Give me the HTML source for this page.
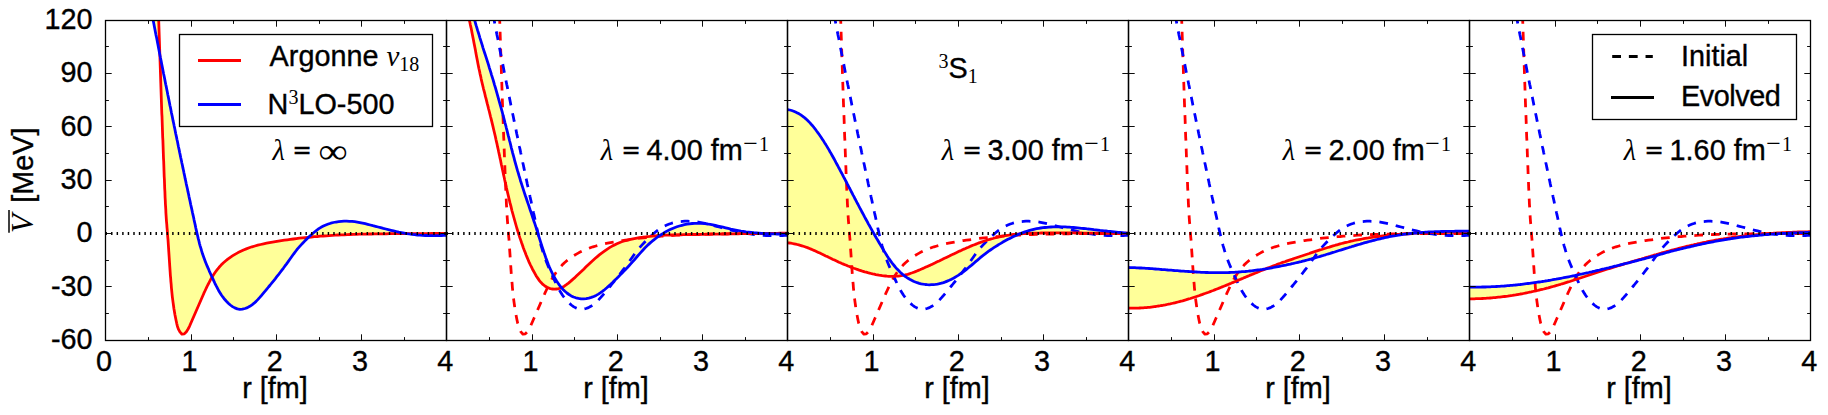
<!DOCTYPE html>
<html lang="en"><head><meta charset="utf-8"><title>SRG evolved potentials</title>
<style>html,body{margin:0;padding:0;background:#fff}svg{display:block}text{stroke:#000;stroke-width:.35px}.m{stroke:none}</style></head>
<body>
<svg width="1828" height="415" viewBox="0 0 1828 415" font-family="'Liberation Sans', Arial, Helvetica, sans-serif" font-size="28.8" fill="#000">
<rect x="0" y="0" width="1828" height="415" fill="#fff"/>
<defs>
<clipPath id="c0"><rect x="105.5" y="20.5" width="341.0" height="320.0"/></clipPath>
<clipPath id="c1"><rect x="446.5" y="20.5" width="341.0" height="320.0"/></clipPath>
<clipPath id="c2"><rect x="787.5" y="20.5" width="341.0" height="320.0"/></clipPath>
<clipPath id="c3"><rect x="1128.5" y="20.5" width="341.0" height="320.0"/></clipPath>
<clipPath id="c4"><rect x="1469.5" y="20.5" width="341.0" height="320.0"/></clipPath>
</defs>
<g clip-path="url(#c0)" fill="none" stroke-linejoin="round">
<path d="M157.9 -10.0L158.0 -7.0L158.1 -4.0L158.2 -1.0L158.2 2.0L158.3 5.0L158.4 8.1L158.5 11.1L158.6 14.1L158.7 17.1L158.7 20.1L158.8 23.1L158.9 26.1L159.0 29.1L159.1 32.1L159.2 35.1L159.3 38.1L159.4 41.1L159.5 44.2L159.6 47.2L159.7 50.2L159.8 53.2L159.9 56.2L160.0 59.2L160.1 62.2L160.2 65.2L160.3 68.2L160.4 71.2L160.5 74.2L160.6 77.2L160.7 80.2L160.8 83.3L160.9 86.3L161.0 89.3L161.1 92.3L161.2 95.3L161.3 98.3L161.4 101.3L161.5 104.3L161.6 107.3L161.7 110.3L161.8 113.3L162.0 116.3L162.1 119.3L162.2 122.3L162.3 125.4L162.4 128.4L162.5 131.4L162.6 134.4L162.7 137.4L162.9 140.4L163.0 143.4L163.1 146.4L163.2 149.4L163.3 152.4L163.4 155.4L163.5 158.4L163.7 161.5L163.8 164.5L163.9 167.5L164.0 170.5L164.1 173.5L164.2 176.5L164.4 179.5L164.5 182.5L164.6 185.5L164.7 188.5L164.9 191.5L165.0 194.5L165.1 197.5L165.3 200.6L165.4 203.6L165.6 206.6L165.8 209.6L165.9 212.6L166.1 215.6L166.3 218.6L166.5 221.6L166.8 224.6L167.0 227.6L167.3 230.6L167.5 233.6L167.7 236.6L168.0 239.6L168.2 242.6L168.4 245.6L168.6 248.6L168.8 251.6L169.0 254.6L169.2 257.6L169.4 260.6L169.6 263.6L169.8 266.6L170.0 269.6L170.2 272.6L170.4 275.6L170.7 278.6L170.9 281.6L171.2 284.6L171.4 287.6L171.7 290.6L172.0 293.6L172.3 296.6L172.7 299.6L173.1 302.6L173.5 305.5L173.9 308.5L174.4 311.5L174.9 314.4L175.5 317.4L176.1 320.4L176.7 323.3L177.4 326.2L178.4 329.1L179.9 331.9L182.0 334.2L184.3 333.9L186.4 331.7L188.1 329.0L189.5 326.3L190.7 323.5L191.9 320.8L193.1 318.0L194.3 315.2L195.5 312.5L196.7 309.7L197.9 307.0L199.1 304.3L200.3 301.5L201.5 298.8L202.7 296.0L203.9 293.2L205.2 290.5L206.5 287.7L207.8 285.0L209.2 282.3L210.6 279.7L212.1 277.0L213.7 274.5L215.4 272.0L217.2 269.6L219.1 267.3L221.1 265.1L223.2 263.0L225.5 261.0L227.8 259.1L230.3 257.3L232.8 255.7L235.4 254.1L238.1 252.6L240.8 251.3L243.5 250.0L246.3 248.9L249.2 247.8L252.0 246.8L254.9 246.0L257.8 245.2L260.7 244.5L263.6 243.8L266.6 243.2L269.5 242.6L272.5 242.1L275.4 241.6L278.4 241.1L281.4 240.6L284.4 240.2L287.3 239.8L290.3 239.4L293.3 239.0L296.3 238.6L299.3 238.2L302.3 237.9L305.3 237.6L308.3 237.3L311.3 237.0L314.3 236.7L317.3 236.5L320.3 236.2L323.3 236.0L326.3 235.8L329.3 235.6L332.3 235.4L335.3 235.2L338.3 235.0L341.3 234.9L344.3 234.8L347.3 234.6L350.3 234.5L353.3 234.4L356.3 234.3L359.3 234.2L362.3 234.1L365.3 234.1L368.3 234.0L371.4 234.0L374.4 233.9L377.4 233.9L380.4 233.8L383.4 233.8L386.4 233.8L389.4 233.7L392.4 233.7L395.4 233.7L398.5 233.7L401.5 233.7L404.5 233.6L407.5 233.6L410.5 233.6L413.5 233.6L416.5 233.6L419.5 233.6L422.5 233.6L425.5 233.6L428.6 233.6L431.6 233.5L434.6 233.5L437.6 233.5L440.6 233.5L443.6 233.4L446.6 233.4L446.6 235.3L443.9 235.4L441.3 235.5L438.6 235.6L435.9 235.6L433.3 235.6L430.6 235.6L427.9 235.5L425.3 235.5L422.6 235.3L419.9 235.2L417.3 235.0L414.6 234.7L411.9 234.4L409.3 234.0L406.7 233.6L404.1 233.1L401.4 232.6L398.8 232.1L396.2 231.5L393.6 230.9L391.0 230.3L388.4 229.7L385.8 229.0L383.3 228.4L380.7 227.7L378.1 227.0L375.5 226.3L372.9 225.7L370.3 225.0L367.7 224.3L365.2 223.7L362.6 223.1L359.9 222.6L357.3 222.1L354.7 221.7L352.0 221.4L349.4 221.3L346.7 221.2L344.0 221.2L341.4 221.4L338.7 221.6L336.0 222.0L333.4 222.5L330.8 223.2L328.3 224.0L325.8 225.0L323.4 226.1L321.0 227.3L318.8 228.7L316.6 230.3L314.5 232.0L312.5 233.7L310.5 235.5L308.5 237.3L306.6 239.2L304.7 241.1L302.9 243.0L301.1 244.9L299.3 246.9L297.5 248.9L295.9 251.0L294.3 253.1L292.7 255.3L291.1 257.5L289.5 259.7L288.0 261.9L286.4 264.1L284.8 266.2L283.3 268.3L281.7 270.4L280.1 272.5L278.5 274.6L276.8 276.7L275.2 278.8L273.6 280.8L271.9 282.9L270.2 285.0L268.5 287.0L266.8 289.1L265.1 291.2L263.4 293.2L261.6 295.3L259.8 297.4L258.0 299.4L256.1 301.4L254.1 303.2L252.0 304.8L249.8 306.3L247.5 307.6L245.0 308.5L242.4 309.2L239.8 309.3L237.3 308.9L234.8 307.9L232.5 306.6L230.3 305.0L228.3 303.2L226.4 301.3L224.6 299.3L223.0 297.2L221.4 295.0L220.0 292.8L218.6 290.5L217.4 288.1L216.1 285.7L214.9 283.3L213.8 280.8L212.7 278.4L211.5 276.0L210.4 273.5L209.3 271.1L208.3 268.6L207.2 266.2L206.2 263.7L205.2 261.2L204.3 258.8L203.4 256.3L202.5 253.8L201.7 251.2L201.0 248.7L200.2 246.1L199.5 243.6L198.9 241.0L198.2 238.4L197.6 235.8L197.0 233.2L196.4 230.6L195.8 228.0L195.3 225.4L194.7 222.8L194.1 220.1L193.6 217.5L193.0 214.9L192.4 212.3L191.9 209.7L191.3 207.1L190.7 204.5L190.2 201.9L189.6 199.3L189.0 196.6L188.5 194.0L187.9 191.4L187.4 188.8L186.8 186.2L186.2 183.6L185.7 181.0L185.1 178.4L184.6 175.8L184.0 173.1L183.5 170.5L182.9 167.9L182.4 165.3L181.8 162.7L181.3 160.1L180.7 157.5L180.2 154.9L179.6 152.3L179.1 149.6L178.5 147.0L178.0 144.4L177.5 141.8L176.9 139.2L176.4 136.6L175.8 134.0L175.3 131.4L174.8 128.7L174.2 126.1L173.7 123.5L173.1 120.9L172.6 118.3L172.1 115.7L171.5 113.1L171.0 110.4L170.5 107.8L169.9 105.2L169.4 102.6L168.9 100.0L168.4 97.4L167.8 94.8L167.3 92.1L166.8 89.5L166.3 86.9L165.7 84.3L165.2 81.7L164.7 79.1L164.2 76.5L163.6 73.8L163.1 71.2L162.6 68.6L162.1 66.0L161.6 63.4L161.1 60.8L160.5 58.1L160.0 55.5L159.5 52.9L159.0 50.3L158.5 47.7L158.0 45.0L157.5 42.4L157.0 39.8L156.5 37.2L155.9 34.6L155.4 31.9L154.9 29.3L154.4 26.7L153.9 24.1L153.4 21.5L152.9 18.8L152.4 16.2L151.9 13.6L151.4 11.0L150.9 8.4L150.4 5.7L149.9 3.1L149.4 0.5L148.9 -2.1L148.4 -4.8L147.9 -7.4L147.4 -10.0Z" fill="#ffff99" stroke="none"/>
<path d="M157.9 -10.0L158.0 -7.0L158.1 -4.0L158.2 -1.0L158.2 2.0L158.3 5.0L158.4 8.1L158.5 11.1L158.6 14.1L158.7 17.1L158.7 20.1L158.8 23.1L158.9 26.1L159.0 29.1L159.1 32.1L159.2 35.1L159.3 38.1L159.4 41.1L159.5 44.2L159.6 47.2L159.7 50.2L159.8 53.2L159.9 56.2L160.0 59.2L160.1 62.2L160.2 65.2L160.3 68.2L160.4 71.2L160.5 74.2L160.6 77.2L160.7 80.2L160.8 83.3L160.9 86.3L161.0 89.3L161.1 92.3L161.2 95.3L161.3 98.3L161.4 101.3L161.5 104.3L161.6 107.3L161.7 110.3L161.8 113.3L162.0 116.3L162.1 119.3L162.2 122.3L162.3 125.4L162.4 128.4L162.5 131.4L162.6 134.4L162.7 137.4L162.9 140.4L163.0 143.4L163.1 146.4L163.2 149.4L163.3 152.4L163.4 155.4L163.5 158.4L163.7 161.5L163.8 164.5L163.9 167.5L164.0 170.5L164.1 173.5L164.2 176.5L164.4 179.5L164.5 182.5L164.6 185.5L164.7 188.5L164.9 191.5L165.0 194.5L165.1 197.5L165.3 200.6L165.4 203.6L165.6 206.6L165.8 209.6L165.9 212.6L166.1 215.6L166.3 218.6L166.5 221.6L166.8 224.6L167.0 227.6L167.3 230.6L167.5 233.6L167.7 236.6L168.0 239.6L168.2 242.6L168.4 245.6L168.6 248.6L168.8 251.6L169.0 254.6L169.2 257.6L169.4 260.6L169.6 263.6L169.8 266.6L170.0 269.6L170.2 272.6L170.4 275.6L170.7 278.6L170.9 281.6L171.2 284.6L171.4 287.6L171.7 290.6L172.0 293.6L172.3 296.6L172.7 299.6L173.1 302.6L173.5 305.5L173.9 308.5L174.4 311.5L174.9 314.4L175.5 317.4L176.1 320.4L176.7 323.3L177.4 326.2L178.4 329.1L179.9 331.9L182.0 334.2L184.3 333.9L186.4 331.7L188.1 329.0L189.5 326.3L190.7 323.5L191.9 320.8L193.1 318.0L194.3 315.2L195.5 312.5L196.7 309.7L197.9 307.0L199.1 304.3L200.3 301.5L201.5 298.8L202.7 296.0L203.9 293.2L205.2 290.5L206.5 287.7L207.8 285.0L209.2 282.3L210.6 279.7L212.1 277.0L213.7 274.5L215.4 272.0L217.2 269.6L219.1 267.3L221.1 265.1L223.2 263.0L225.5 261.0L227.8 259.1L230.3 257.3L232.8 255.7L235.4 254.1L238.1 252.6L240.8 251.3L243.5 250.0L246.3 248.9L249.2 247.8L252.0 246.8L254.9 246.0L257.8 245.2L260.7 244.5L263.6 243.8L266.6 243.2L269.5 242.6L272.5 242.1L275.4 241.6L278.4 241.1L281.4 240.6L284.4 240.2L287.3 239.8L290.3 239.4L293.3 239.0L296.3 238.6L299.3 238.2L302.3 237.9L305.3 237.6L308.3 237.3L311.3 237.0L314.3 236.7L317.3 236.5L320.3 236.2L323.3 236.0L326.3 235.8L329.3 235.6L332.3 235.4L335.3 235.2L338.3 235.0L341.3 234.9L344.3 234.8L347.3 234.6L350.3 234.5L353.3 234.4L356.3 234.3L359.3 234.2L362.3 234.1L365.3 234.1L368.3 234.0L371.4 234.0L374.4 233.9L377.4 233.9L380.4 233.8L383.4 233.8L386.4 233.8L389.4 233.7L392.4 233.7L395.4 233.7L398.5 233.7L401.5 233.7L404.5 233.6L407.5 233.6L410.5 233.6L413.5 233.6L416.5 233.6L419.5 233.6L422.5 233.6L425.5 233.6L428.6 233.6L431.6 233.5L434.6 233.5L437.6 233.5L440.6 233.5L443.6 233.4L446.6 233.4" stroke="#ff0000" stroke-width="2.78"/>
<path d="M147.4 -10.0L147.9 -7.4L148.4 -4.8L148.9 -2.1L149.4 0.5L149.9 3.1L150.4 5.7L150.9 8.4L151.4 11.0L151.9 13.6L152.4 16.2L152.9 18.8L153.4 21.5L153.9 24.1L154.4 26.7L154.9 29.3L155.4 31.9L155.9 34.6L156.5 37.2L157.0 39.8L157.5 42.4L158.0 45.0L158.5 47.7L159.0 50.3L159.5 52.9L160.0 55.5L160.5 58.1L161.1 60.8L161.6 63.4L162.1 66.0L162.6 68.6L163.1 71.2L163.6 73.8L164.2 76.5L164.7 79.1L165.2 81.7L165.7 84.3L166.3 86.9L166.8 89.5L167.3 92.1L167.8 94.8L168.4 97.4L168.9 100.0L169.4 102.6L169.9 105.2L170.5 107.8L171.0 110.4L171.5 113.1L172.1 115.7L172.6 118.3L173.1 120.9L173.7 123.5L174.2 126.1L174.8 128.7L175.3 131.4L175.8 134.0L176.4 136.6L176.9 139.2L177.5 141.8L178.0 144.4L178.5 147.0L179.1 149.6L179.6 152.3L180.2 154.9L180.7 157.5L181.3 160.1L181.8 162.7L182.4 165.3L182.9 167.9L183.5 170.5L184.0 173.1L184.6 175.8L185.1 178.4L185.7 181.0L186.2 183.6L186.8 186.2L187.4 188.8L187.9 191.4L188.5 194.0L189.0 196.6L189.6 199.3L190.2 201.9L190.7 204.5L191.3 207.1L191.9 209.7L192.4 212.3L193.0 214.9L193.6 217.5L194.1 220.1L194.7 222.8L195.3 225.4L195.8 228.0L196.4 230.6L197.0 233.2L197.6 235.8L198.2 238.4L198.9 241.0L199.5 243.6L200.2 246.1L201.0 248.7L201.7 251.2L202.5 253.8L203.4 256.3L204.3 258.8L205.2 261.2L206.2 263.7L207.2 266.2L208.3 268.6L209.3 271.1L210.4 273.5L211.5 276.0L212.7 278.4L213.8 280.8L214.9 283.3L216.1 285.7L217.4 288.1L218.6 290.5L220.0 292.8L221.4 295.0L223.0 297.2L224.6 299.3L226.4 301.3L228.3 303.2L230.3 305.0L232.5 306.6L234.8 307.9L237.3 308.9L239.8 309.3L242.4 309.2L245.0 308.5L247.5 307.6L249.8 306.3L252.0 304.8L254.1 303.2L256.1 301.4L258.0 299.4L259.8 297.4L261.6 295.3L263.4 293.2L265.1 291.2L266.8 289.1L268.5 287.0L270.2 285.0L271.9 282.9L273.6 280.8L275.2 278.8L276.8 276.7L278.5 274.6L280.1 272.5L281.7 270.4L283.3 268.3L284.8 266.2L286.4 264.1L288.0 261.9L289.5 259.7L291.1 257.5L292.7 255.3L294.3 253.1L295.9 251.0L297.5 248.9L299.3 246.9L301.1 244.9L302.9 243.0L304.7 241.1L306.6 239.2L308.5 237.3L310.5 235.5L312.5 233.7L314.5 232.0L316.6 230.3L318.8 228.7L321.0 227.3L323.4 226.1L325.8 225.0L328.3 224.0L330.8 223.2L333.4 222.5L336.0 222.0L338.7 221.6L341.4 221.4L344.0 221.2L346.7 221.2L349.4 221.3L352.0 221.4L354.7 221.7L357.3 222.1L359.9 222.6L362.6 223.1L365.2 223.7L367.7 224.3L370.3 225.0L372.9 225.7L375.5 226.3L378.1 227.0L380.7 227.7L383.3 228.4L385.8 229.0L388.4 229.7L391.0 230.3L393.6 230.9L396.2 231.5L398.8 232.1L401.4 232.6L404.1 233.1L406.7 233.6L409.3 234.0L411.9 234.4L414.6 234.7L417.3 235.0L419.9 235.2L422.6 235.3L425.3 235.5L427.9 235.5L430.6 235.6L433.3 235.6L435.9 235.6L438.6 235.6L441.3 235.5L443.9 235.4L446.6 235.3" stroke="#0000ff" stroke-width="2.78"/>
<path d="M105.5 233.5H446.5" stroke="#000" stroke-width="3" stroke-dasharray="1.45 4.105"/>
</g>
<g clip-path="url(#c1)" fill="none" stroke-linejoin="round">
<path d="M460.5 -10.0L461.4 -7.5L462.3 -5.1L463.1 -2.6L463.9 -0.1L464.7 2.4L465.4 4.9L466.1 7.4L466.8 9.9L467.4 12.4L468.1 14.9L468.7 17.4L469.3 20.0L469.9 22.5L470.4 25.0L471.0 27.6L471.5 30.1L472.0 32.7L472.5 35.2L473.0 37.8L473.5 40.3L474.0 42.9L474.5 45.5L475.0 48.0L475.5 50.6L475.9 53.1L476.4 55.7L476.9 58.2L477.4 60.8L477.9 63.4L478.4 65.9L478.9 68.5L479.5 71.0L480.0 73.6L480.6 76.1L481.1 78.6L481.7 81.2L482.3 83.7L482.9 86.2L483.5 88.8L484.2 91.3L484.8 93.8L485.4 96.4L486.1 98.9L486.7 101.4L487.3 103.9L488.0 106.4L488.6 109.0L489.3 111.5L489.9 114.0L490.5 116.5L491.2 119.1L491.8 121.6L492.4 124.1L493.0 126.6L493.6 129.2L494.2 131.7L494.8 134.2L495.4 136.8L495.9 139.3L496.5 141.9L497.1 144.4L497.6 146.9L498.2 149.5L498.7 152.0L499.3 154.6L499.8 157.1L500.4 159.6L500.9 162.2L501.4 164.7L502.0 167.3L502.5 169.8L503.1 172.4L503.6 174.9L504.2 177.5L504.7 180.0L505.3 182.6L505.9 185.1L506.4 187.6L507.0 190.2L507.6 192.7L508.2 195.3L508.8 197.8L509.4 200.3L510.0 202.9L510.7 205.4L511.3 207.9L511.9 210.5L512.6 213.0L513.3 215.5L514.0 218.0L514.7 220.5L515.4 223.0L516.1 225.5L516.8 228.0L517.6 230.5L518.4 233.0L519.1 235.4L519.9 237.9L520.8 240.4L521.6 242.8L522.5 245.3L523.3 247.7L524.2 250.1L525.2 252.5L526.1 255.0L527.1 257.4L528.1 259.7L529.1 262.1L530.2 264.5L531.4 266.9L532.5 269.2L533.8 271.5L535.1 273.9L536.4 276.2L537.9 278.4L539.4 280.6L541.1 282.6L542.9 284.4L544.9 286.0L547.0 287.3L549.4 288.3L551.9 289.0L554.5 289.2L557.1 289.0L559.6 288.4L562.0 287.4L564.3 286.2L566.4 284.7L568.5 283.1L570.5 281.4L572.5 279.6L574.5 277.9L576.4 276.1L578.3 274.3L580.2 272.5L582.1 270.7L584.0 268.9L585.8 267.1L587.7 265.3L589.6 263.5L591.5 261.7L593.4 260.0L595.3 258.3L597.3 256.6L599.3 254.9L601.3 253.3L603.4 251.8L605.5 250.3L607.7 248.8L609.9 247.4L612.2 246.1L614.5 244.9L616.9 243.7L619.3 242.7L621.7 241.8L624.2 241.0L626.7 240.3L629.2 239.7L631.8 239.1L634.3 238.6L636.9 238.1L639.4 237.7L642.0 237.3L644.6 237.0L647.1 236.6L649.7 236.4L652.3 236.1L654.9 235.9L657.5 235.7L660.1 235.5L662.7 235.4L665.3 235.2L667.9 235.1L670.5 235.0L673.1 235.0L675.7 234.9L678.3 234.8L680.9 234.8L683.5 234.7L686.1 234.7L688.7 234.6L691.3 234.6L693.9 234.6L696.5 234.5L699.1 234.5L701.7 234.4L704.3 234.4L707.0 234.3L709.6 234.3L712.2 234.2L714.8 234.2L717.4 234.1L720.0 234.1L722.6 234.0L725.2 234.0L727.8 234.0L730.4 233.9L733.0 233.9L735.6 233.8L738.2 233.8L740.8 233.7L743.4 233.7L746.0 233.6L748.5 233.6L751.1 233.6L753.8 233.5L756.4 233.5L759.0 233.5L761.6 233.4L764.2 233.4L766.8 233.4L769.4 233.3L772.0 233.3L774.6 233.3L777.2 233.3L779.8 233.2L782.4 233.2L785.0 233.2L787.6 233.2L787.6 234.2L785.0 234.1L782.4 234.1L779.8 234.0L777.2 234.0L774.6 233.9L772.0 233.8L769.4 233.7L766.8 233.6L764.2 233.5L761.5 233.3L758.9 233.1L756.3 232.9L753.8 232.7L751.2 232.4L748.6 232.1L746.0 231.8L743.4 231.4L740.9 231.0L738.3 230.5L735.7 230.0L733.2 229.5L730.7 229.0L728.1 228.4L725.6 227.8L723.0 227.2L720.5 226.6L717.9 226.0L715.4 225.4L712.8 224.9L710.3 224.4L707.7 224.0L705.1 223.7L702.5 223.4L699.9 223.3L697.3 223.3L694.7 223.3L692.1 223.5L689.5 223.8L687.0 224.2L684.4 224.7L681.9 225.3L679.4 226.0L676.9 226.8L674.4 227.7L672.0 228.7L669.6 229.8L667.3 230.9L665.0 232.2L662.8 233.6L660.6 235.0L658.4 236.4L656.3 238.0L654.2 239.6L652.2 241.2L650.2 242.9L648.3 244.6L646.4 246.4L644.6 248.3L642.8 250.2L641.1 252.1L639.3 254.1L637.6 256.0L635.9 258.0L634.2 260.0L632.5 261.9L630.7 263.9L629.0 265.8L627.2 267.7L625.5 269.5L623.7 271.4L621.9 273.3L620.0 275.1L618.2 277.0L616.4 278.8L614.5 280.6L612.6 282.5L610.7 284.3L608.7 286.1L606.8 287.8L604.8 289.5L602.7 291.2L600.6 292.7L598.4 294.1L596.1 295.4L593.8 296.5L591.3 297.4L588.8 298.1L586.2 298.6L583.6 298.8L581.0 298.8L578.5 298.4L575.9 297.8L573.5 297.0L571.2 295.9L569.0 294.5L566.9 293.0L564.9 291.3L563.0 289.4L561.3 287.5L559.6 285.4L558.1 283.2L556.6 281.0L555.2 278.7L553.9 276.5L552.7 274.2L551.6 271.8L550.5 269.5L549.4 267.1L548.4 264.7L547.5 262.3L546.6 259.8L545.7 257.4L544.9 255.0L544.0 252.5L543.2 250.0L542.4 247.6L541.6 245.1L540.8 242.6L540.0 240.1L539.2 237.6L538.4 235.1L537.7 232.6L536.9 230.2L536.1 227.7L535.3 225.2L534.5 222.7L533.6 220.2L532.8 217.7L532.0 215.3L531.2 212.8L530.3 210.3L529.5 207.9L528.7 205.4L527.8 202.9L527.0 200.5L526.2 198.0L525.3 195.5L524.5 193.1L523.7 190.6L522.9 188.1L522.1 185.6L521.3 183.1L520.5 180.7L519.8 178.2L519.0 175.7L518.3 173.2L517.5 170.7L516.8 168.2L516.1 165.7L515.4 163.2L514.7 160.7L514.1 158.1L513.4 155.6L512.7 153.1L512.1 150.6L511.4 148.1L510.8 145.5L510.2 143.0L509.5 140.5L508.9 137.9L508.2 135.4L507.6 132.9L507.0 130.4L506.3 127.8L505.7 125.3L505.0 122.8L504.4 120.3L503.7 117.7L503.0 115.2L502.4 112.7L501.7 110.2L501.0 107.7L500.3 105.2L499.6 102.6L498.9 100.1L498.2 97.6L497.5 95.1L496.8 92.6L496.1 90.1L495.4 87.6L494.6 85.1L493.9 82.6L493.2 80.1L492.4 77.6L491.6 75.1L490.9 72.6L490.1 70.1L489.3 67.6L488.6 65.2L487.8 62.7L487.0 60.2L486.2 57.7L485.4 55.2L484.6 52.7L483.8 50.3L483.0 47.8L482.3 45.3L481.5 42.8L480.7 40.3L479.9 37.8L479.2 35.3L478.4 32.8L477.6 30.4L476.9 27.9L476.1 25.4L475.4 22.9L474.7 20.4L474.0 17.8L473.3 15.3L472.6 12.8L471.9 10.3L471.3 7.8L470.7 5.3L470.0 2.7L469.4 0.2L468.8 -2.3L468.3 -4.9L467.7 -7.4L467.2 -10.0Z" fill="#ffff99" stroke="none"/>
<path d="M498.9 -10.0L499.0 -7.0L499.1 -4.0L499.2 -1.0L499.2 2.0L499.3 5.0L499.4 8.1L499.5 11.1L499.6 14.1L499.7 17.1L499.7 20.1L499.8 23.1L499.9 26.1L500.0 29.1L500.1 32.1L500.2 35.1L500.3 38.1L500.4 41.1L500.5 44.2L500.6 47.2L500.7 50.2L500.8 53.2L500.9 56.2L501.0 59.2L501.1 62.2L501.2 65.2L501.3 68.2L501.4 71.2L501.5 74.2L501.6 77.2L501.7 80.2L501.8 83.3L501.9 86.3L502.0 89.3L502.1 92.3L502.2 95.3L502.3 98.3L502.4 101.3L502.5 104.3L502.6 107.3L502.7 110.3L502.8 113.3L503.0 116.3L503.1 119.3L503.2 122.3L503.3 125.4L503.4 128.4L503.5 131.4L503.6 134.4L503.7 137.4L503.9 140.4L504.0 143.4L504.1 146.4L504.2 149.4L504.3 152.4L504.4 155.4L504.5 158.4L504.7 161.5L504.8 164.5L504.9 167.5L505.0 170.5L505.1 173.5L505.2 176.5L505.4 179.5L505.5 182.5L505.6 185.5L505.7 188.5L505.9 191.5L506.0 194.5L506.1 197.5L506.3 200.6L506.4 203.6L506.6 206.6L506.8 209.6L506.9 212.6L507.1 215.6L507.3 218.6L507.5 221.6L507.8 224.6L508.0 227.6L508.3 230.6L508.5 233.6L508.7 236.6L509.0 239.6L509.2 242.6L509.4 245.6L509.6 248.6L509.8 251.6L510.0 254.6L510.2 257.6L510.4 260.6L510.6 263.6L510.8 266.6L511.0 269.6L511.2 272.6L511.4 275.6L511.7 278.6L511.9 281.6L512.2 284.6L512.4 287.6L512.7 290.6L513.0 293.6L513.3 296.6L513.7 299.6L514.1 302.6L514.5 305.5L514.9 308.5L515.4 311.5L515.9 314.4L516.5 317.4L517.1 320.4L517.7 323.3L518.4 326.2L519.4 329.1L520.9 331.9L523.0 334.2L525.3 333.9L527.4 331.7L529.1 329.0L530.5 326.3L531.7 323.5L532.9 320.8L534.1 318.0L535.3 315.2L536.5 312.5L537.7 309.7L538.9 307.0L540.1 304.3L541.3 301.5L542.5 298.8L543.7 296.0L544.9 293.2L546.2 290.5L547.5 287.7L548.8 285.0L550.2 282.3L551.6 279.7L553.1 277.0L554.7 274.5L556.4 272.0L558.2 269.6L560.1 267.3L562.1 265.1L564.2 263.0L566.5 261.0L568.8 259.1L571.3 257.3L573.8 255.7L576.4 254.1L579.1 252.6L581.8 251.3L584.5 250.0L587.3 248.9L590.2 247.8L593.0 246.8L595.9 246.0L598.8 245.2L601.7 244.5L604.6 243.8L607.6 243.2L610.5 242.6L613.5 242.1L616.4 241.6L619.4 241.1L622.4 240.6L625.4 240.2L628.3 239.8L631.3 239.4L634.3 239.0L637.3 238.6L640.3 238.2L643.3 237.9L646.3 237.6L649.3 237.3L652.3 237.0L655.3 236.7L658.3 236.5L661.3 236.2L664.3 236.0L667.3 235.8L670.3 235.6L673.3 235.4L676.3 235.2L679.3 235.0L682.3 234.9L685.3 234.8L688.3 234.6L691.3 234.5L694.3 234.4L697.3 234.3L700.3 234.2L703.3 234.1L706.3 234.1L709.3 234.0L712.4 234.0L715.4 233.9L718.4 233.9L721.4 233.8L724.4 233.8L727.4 233.8L730.4 233.7L733.4 233.7L736.4 233.7L739.5 233.7L742.5 233.7L745.5 233.6L748.5 233.6L751.5 233.6L754.5 233.6L757.5 233.6L760.5 233.6L763.5 233.6L766.5 233.6L769.6 233.6L772.6 233.5L775.6 233.5L778.6 233.5L781.6 233.5L784.6 233.4L787.6 233.4" stroke="#ff0000" stroke-width="2.78" stroke-dasharray="8.7 8.0" stroke-dashoffset="-8.38"/>
<path d="M488.4 -10.0L488.9 -7.4L489.4 -4.8L489.9 -2.1L490.4 0.5L490.9 3.1L491.4 5.7L491.9 8.4L492.4 11.0L492.9 13.6L493.4 16.2L493.9 18.8L494.4 21.5L494.9 24.1L495.4 26.7L495.9 29.3L496.4 31.9L496.9 34.6L497.5 37.2L498.0 39.8L498.5 42.4L499.0 45.0L499.5 47.7L500.0 50.3L500.5 52.9L501.0 55.5L501.5 58.1L502.1 60.8L502.6 63.4L503.1 66.0L503.6 68.6L504.1 71.2L504.6 73.8L505.2 76.5L505.7 79.1L506.2 81.7L506.7 84.3L507.3 86.9L507.8 89.5L508.3 92.1L508.8 94.8L509.4 97.4L509.9 100.0L510.4 102.6L510.9 105.2L511.5 107.8L512.0 110.4L512.5 113.1L513.1 115.7L513.6 118.3L514.1 120.9L514.7 123.5L515.2 126.1L515.8 128.7L516.3 131.4L516.8 134.0L517.4 136.6L517.9 139.2L518.5 141.8L519.0 144.4L519.5 147.0L520.1 149.6L520.6 152.3L521.2 154.9L521.7 157.5L522.3 160.1L522.8 162.7L523.4 165.3L523.9 167.9L524.5 170.5L525.0 173.1L525.6 175.8L526.1 178.4L526.7 181.0L527.2 183.6L527.8 186.2L528.4 188.8L528.9 191.4L529.5 194.0L530.0 196.6L530.6 199.3L531.2 201.9L531.7 204.5L532.3 207.1L532.9 209.7L533.4 212.3L534.0 214.9L534.6 217.5L535.1 220.1L535.7 222.8L536.3 225.4L536.8 228.0L537.4 230.6L538.0 233.2L538.6 235.8L539.2 238.4L539.9 241.0L540.5 243.6L541.2 246.1L542.0 248.7L542.7 251.2L543.5 253.8L544.4 256.3L545.3 258.8L546.2 261.2L547.2 263.7L548.2 266.2L549.3 268.6L550.3 271.1L551.4 273.5L552.5 276.0L553.7 278.4L554.8 280.8L555.9 283.3L557.1 285.7L558.4 288.1L559.6 290.5L561.0 292.8L562.4 295.0L564.0 297.2L565.6 299.3L567.4 301.3L569.3 303.2L571.3 305.0L573.5 306.6L575.8 307.9L578.3 308.9L580.8 309.3L583.4 309.2L586.0 308.5L588.5 307.6L590.8 306.3L593.0 304.8L595.1 303.2L597.1 301.4L599.0 299.4L600.8 297.4L602.6 295.3L604.4 293.2L606.1 291.2L607.8 289.1L609.5 287.0L611.2 285.0L612.9 282.9L614.6 280.8L616.2 278.8L617.8 276.7L619.5 274.6L621.1 272.5L622.7 270.4L624.3 268.3L625.8 266.2L627.4 264.1L629.0 261.9L630.5 259.7L632.1 257.5L633.7 255.3L635.3 253.1L636.9 251.0L638.5 248.9L640.3 246.9L642.1 244.9L643.9 243.0L645.7 241.1L647.6 239.2L649.5 237.3L651.5 235.5L653.5 233.7L655.5 232.0L657.6 230.3L659.8 228.7L662.0 227.3L664.4 226.1L666.8 225.0L669.3 224.0L671.8 223.2L674.4 222.5L677.0 222.0L679.7 221.6L682.4 221.4L685.0 221.2L687.7 221.2L690.4 221.3L693.0 221.4L695.7 221.7L698.3 222.1L700.9 222.6L703.6 223.1L706.2 223.7L708.7 224.3L711.3 225.0L713.9 225.7L716.5 226.3L719.1 227.0L721.7 227.7L724.3 228.4L726.8 229.0L729.4 229.7L732.0 230.3L734.6 230.9L737.2 231.5L739.8 232.1L742.4 232.6L745.1 233.1L747.7 233.6L750.3 234.0L752.9 234.4L755.6 234.7L758.3 235.0L760.9 235.2L763.6 235.3L766.3 235.5L768.9 235.5L771.6 235.6L774.3 235.6L776.9 235.6L779.6 235.6L782.3 235.5L784.9 235.4L787.6 235.3" stroke="#0000ff" stroke-width="2.78" stroke-dasharray="8.7 8.0" stroke-dashoffset="-8.71"/>
<path d="M460.5 -10.0L461.4 -7.5L462.3 -5.1L463.1 -2.6L463.9 -0.1L464.7 2.4L465.4 4.9L466.1 7.4L466.8 9.9L467.4 12.4L468.1 14.9L468.7 17.4L469.3 20.0L469.9 22.5L470.4 25.0L471.0 27.6L471.5 30.1L472.0 32.7L472.5 35.2L473.0 37.8L473.5 40.3L474.0 42.9L474.5 45.5L475.0 48.0L475.5 50.6L475.9 53.1L476.4 55.7L476.9 58.2L477.4 60.8L477.9 63.4L478.4 65.9L478.9 68.5L479.5 71.0L480.0 73.6L480.6 76.1L481.1 78.6L481.7 81.2L482.3 83.7L482.9 86.2L483.5 88.8L484.2 91.3L484.8 93.8L485.4 96.4L486.1 98.9L486.7 101.4L487.3 103.9L488.0 106.4L488.6 109.0L489.3 111.5L489.9 114.0L490.5 116.5L491.2 119.1L491.8 121.6L492.4 124.1L493.0 126.6L493.6 129.2L494.2 131.7L494.8 134.2L495.4 136.8L495.9 139.3L496.5 141.9L497.1 144.4L497.6 146.9L498.2 149.5L498.7 152.0L499.3 154.6L499.8 157.1L500.4 159.6L500.9 162.2L501.4 164.7L502.0 167.3L502.5 169.8L503.1 172.4L503.6 174.9L504.2 177.5L504.7 180.0L505.3 182.6L505.9 185.1L506.4 187.6L507.0 190.2L507.6 192.7L508.2 195.3L508.8 197.8L509.4 200.3L510.0 202.9L510.7 205.4L511.3 207.9L511.9 210.5L512.6 213.0L513.3 215.5L514.0 218.0L514.7 220.5L515.4 223.0L516.1 225.5L516.8 228.0L517.6 230.5L518.4 233.0L519.1 235.4L519.9 237.9L520.8 240.4L521.6 242.8L522.5 245.3L523.3 247.7L524.2 250.1L525.2 252.5L526.1 255.0L527.1 257.4L528.1 259.7L529.1 262.1L530.2 264.5L531.4 266.9L532.5 269.2L533.8 271.5L535.1 273.9L536.4 276.2L537.9 278.4L539.4 280.6L541.1 282.6L542.9 284.4L544.9 286.0L547.0 287.3L549.4 288.3L551.9 289.0L554.5 289.2L557.1 289.0L559.6 288.4L562.0 287.4L564.3 286.2L566.4 284.7L568.5 283.1L570.5 281.4L572.5 279.6L574.5 277.9L576.4 276.1L578.3 274.3L580.2 272.5L582.1 270.7L584.0 268.9L585.8 267.1L587.7 265.3L589.6 263.5L591.5 261.7L593.4 260.0L595.3 258.3L597.3 256.6L599.3 254.9L601.3 253.3L603.4 251.8L605.5 250.3L607.7 248.8L609.9 247.4L612.2 246.1L614.5 244.9L616.9 243.7L619.3 242.7L621.7 241.8L624.2 241.0L626.7 240.3L629.2 239.7L631.8 239.1L634.3 238.6L636.9 238.1L639.4 237.7L642.0 237.3L644.6 237.0L647.1 236.6L649.7 236.4L652.3 236.1L654.9 235.9L657.5 235.7L660.1 235.5L662.7 235.4L665.3 235.2L667.9 235.1L670.5 235.0L673.1 235.0L675.7 234.9L678.3 234.8L680.9 234.8L683.5 234.7L686.1 234.7L688.7 234.6L691.3 234.6L693.9 234.6L696.5 234.5L699.1 234.5L701.7 234.4L704.3 234.4L707.0 234.3L709.6 234.3L712.2 234.2L714.8 234.2L717.4 234.1L720.0 234.1L722.6 234.0L725.2 234.0L727.8 234.0L730.4 233.9L733.0 233.9L735.6 233.8L738.2 233.8L740.8 233.7L743.4 233.7L746.0 233.6L748.5 233.6L751.1 233.6L753.8 233.5L756.4 233.5L759.0 233.5L761.6 233.4L764.2 233.4L766.8 233.4L769.4 233.3L772.0 233.3L774.6 233.3L777.2 233.3L779.8 233.2L782.4 233.2L785.0 233.2L787.6 233.2" stroke="#ff0000" stroke-width="2.78"/>
<path d="M467.2 -10.0L467.7 -7.4L468.3 -4.9L468.8 -2.3L469.4 0.2L470.0 2.7L470.7 5.3L471.3 7.8L471.9 10.3L472.6 12.8L473.3 15.3L474.0 17.8L474.7 20.4L475.4 22.9L476.1 25.4L476.9 27.9L477.6 30.4L478.4 32.8L479.2 35.3L479.9 37.8L480.7 40.3L481.5 42.8L482.3 45.3L483.0 47.8L483.8 50.3L484.6 52.7L485.4 55.2L486.2 57.7L487.0 60.2L487.8 62.7L488.6 65.2L489.3 67.6L490.1 70.1L490.9 72.6L491.6 75.1L492.4 77.6L493.2 80.1L493.9 82.6L494.6 85.1L495.4 87.6L496.1 90.1L496.8 92.6L497.5 95.1L498.2 97.6L498.9 100.1L499.6 102.6L500.3 105.2L501.0 107.7L501.7 110.2L502.4 112.7L503.0 115.2L503.7 117.7L504.4 120.3L505.0 122.8L505.7 125.3L506.3 127.8L507.0 130.4L507.6 132.9L508.2 135.4L508.9 137.9L509.5 140.5L510.2 143.0L510.8 145.5L511.4 148.1L512.1 150.6L512.7 153.1L513.4 155.6L514.1 158.1L514.7 160.7L515.4 163.2L516.1 165.7L516.8 168.2L517.5 170.7L518.3 173.2L519.0 175.7L519.8 178.2L520.5 180.7L521.3 183.1L522.1 185.6L522.9 188.1L523.7 190.6L524.5 193.1L525.3 195.5L526.2 198.0L527.0 200.5L527.8 202.9L528.7 205.4L529.5 207.9L530.3 210.3L531.2 212.8L532.0 215.3L532.8 217.7L533.6 220.2L534.5 222.7L535.3 225.2L536.1 227.7L536.9 230.2L537.7 232.6L538.4 235.1L539.2 237.6L540.0 240.1L540.8 242.6L541.6 245.1L542.4 247.6L543.2 250.0L544.0 252.5L544.9 255.0L545.7 257.4L546.6 259.8L547.5 262.3L548.4 264.7L549.4 267.1L550.5 269.5L551.6 271.8L552.7 274.2L553.9 276.5L555.2 278.7L556.6 281.0L558.1 283.2L559.6 285.4L561.3 287.5L563.0 289.4L564.9 291.3L566.9 293.0L569.0 294.5L571.2 295.9L573.5 297.0L575.9 297.8L578.5 298.4L581.0 298.8L583.6 298.8L586.2 298.6L588.8 298.1L591.3 297.4L593.8 296.5L596.1 295.4L598.4 294.1L600.6 292.7L602.7 291.2L604.8 289.5L606.8 287.8L608.7 286.1L610.7 284.3L612.6 282.5L614.5 280.6L616.4 278.8L618.2 277.0L620.0 275.1L621.9 273.3L623.7 271.4L625.5 269.5L627.2 267.7L629.0 265.8L630.7 263.9L632.5 261.9L634.2 260.0L635.9 258.0L637.6 256.0L639.3 254.1L641.1 252.1L642.8 250.2L644.6 248.3L646.4 246.4L648.3 244.6L650.2 242.9L652.2 241.2L654.2 239.6L656.3 238.0L658.4 236.4L660.6 235.0L662.8 233.6L665.0 232.2L667.3 230.9L669.6 229.8L672.0 228.7L674.4 227.7L676.9 226.8L679.4 226.0L681.9 225.3L684.4 224.7L687.0 224.2L689.5 223.8L692.1 223.5L694.7 223.3L697.3 223.3L699.9 223.3L702.5 223.4L705.1 223.7L707.7 224.0L710.3 224.4L712.8 224.9L715.4 225.4L717.9 226.0L720.5 226.6L723.0 227.2L725.6 227.8L728.1 228.4L730.7 229.0L733.2 229.5L735.7 230.0L738.3 230.5L740.9 231.0L743.4 231.4L746.0 231.8L748.6 232.1L751.2 232.4L753.8 232.7L756.3 232.9L758.9 233.1L761.5 233.3L764.2 233.5L766.8 233.6L769.4 233.7L772.0 233.8L774.6 233.9L777.2 234.0L779.8 234.0L782.4 234.1L785.0 234.1L787.6 234.2" stroke="#0000ff" stroke-width="2.78"/>
<path d="M446.5 233.5H787.5" stroke="#000" stroke-width="3" stroke-dasharray="1.45 4.105"/>
</g>
<g clip-path="url(#c2)" fill="none" stroke-linejoin="round">
<path d="M787.6 242.9L789.2 243.0L790.9 243.2L792.5 243.5L794.1 243.8L795.7 244.1L797.2 244.5L798.8 244.9L800.3 245.3L801.9 245.8L803.4 246.3L804.9 246.8L806.5 247.3L808.0 247.9L809.5 248.5L811.0 249.1L812.5 249.7L814.0 250.4L815.4 251.0L816.9 251.7L818.4 252.4L819.9 253.1L821.3 253.8L822.8 254.5L824.3 255.2L825.7 255.9L827.2 256.6L828.6 257.3L830.1 258.0L831.6 258.7L833.0 259.4L834.5 260.1L836.0 260.8L837.5 261.5L838.9 262.2L840.4 262.8L841.9 263.5L843.4 264.1L844.9 264.7L846.4 265.3L847.9 266.0L849.4 266.5L850.9 267.1L852.4 267.7L853.9 268.3L855.4 268.8L857.0 269.3L858.5 269.9L860.0 270.4L861.6 270.9L863.1 271.3L864.7 271.8L866.2 272.2L867.8 272.7L869.4 273.1L871.0 273.5L872.6 273.9L874.2 274.2L875.8 274.6L877.4 274.9L879.0 275.2L880.6 275.4L882.2 275.7L883.8 275.9L885.4 276.0L887.0 276.2L888.6 276.3L890.3 276.3L891.9 276.4L893.5 276.4L895.1 276.3L896.7 276.2L898.3 276.1L899.9 275.9L901.4 275.7L903.0 275.4L904.6 275.1L906.2 274.7L907.7 274.3L909.3 273.8L910.8 273.3L912.3 272.8L913.9 272.2L915.4 271.6L916.9 271.0L918.4 270.4L919.9 269.8L921.5 269.1L923.0 268.4L924.4 267.8L925.9 267.1L927.4 266.4L928.9 265.7L930.4 265.1L931.8 264.4L933.3 263.7L934.8 263.0L936.2 262.3L937.7 261.6L939.2 260.9L940.6 260.2L942.1 259.5L943.5 258.8L945.0 258.1L946.4 257.4L947.9 256.7L949.4 256.0L950.8 255.3L952.3 254.6L953.7 253.9L955.2 253.2L956.7 252.5L958.1 251.8L959.6 251.1L961.1 250.5L962.5 249.8L964.0 249.1L965.5 248.5L967.0 247.8L968.5 247.2L970.0 246.5L971.4 245.9L972.9 245.3L974.5 244.7L976.0 244.1L977.5 243.5L979.0 242.9L980.5 242.4L982.1 241.8L983.6 241.3L985.1 240.8L986.7 240.3L988.2 239.8L989.8 239.3L991.3 238.9L992.9 238.5L994.5 238.0L996.0 237.6L997.6 237.3L999.2 236.9L1000.8 236.6L1002.3 236.2L1003.9 235.9L1005.5 235.7L1007.1 235.4L1008.7 235.2L1010.3 234.9L1011.9 234.7L1013.5 234.5L1015.1 234.4L1016.8 234.2L1018.4 234.1L1020.0 233.9L1021.6 233.8L1023.2 233.7L1024.9 233.6L1026.5 233.5L1028.1 233.4L1029.7 233.4L1031.3 233.3L1033.0 233.2L1034.6 233.2L1036.2 233.1L1037.8 233.1L1039.5 233.1L1041.1 233.0L1042.7 233.0L1044.3 233.0L1046.0 232.9L1047.6 232.9L1049.2 232.9L1050.8 232.9L1052.4 232.9L1054.1 232.9L1055.7 232.9L1057.3 232.9L1058.9 232.9L1060.5 232.9L1062.2 232.9L1063.8 232.9L1065.4 232.9L1067.0 232.9L1068.6 232.9L1070.3 232.9L1071.9 232.9L1073.5 232.9L1075.1 233.0L1076.7 233.0L1078.4 233.0L1080.0 233.0L1081.6 233.0L1083.2 233.1L1084.8 233.1L1086.4 233.1L1088.1 233.1L1089.7 233.1L1091.3 233.2L1092.9 233.2L1094.5 233.2L1096.2 233.2L1097.8 233.2L1099.4 233.2L1101.0 233.3L1102.6 233.3L1104.3 233.3L1105.9 233.3L1107.5 233.3L1109.1 233.3L1110.7 233.3L1112.4 233.3L1114.0 233.3L1115.6 233.3L1117.2 233.3L1118.9 233.3L1120.5 233.3L1122.1 233.3L1123.7 233.3L1125.4 233.2L1127.0 233.2L1128.6 233.2L1128.6 233.2L1126.6 233.1L1124.5 232.9L1122.4 232.7L1120.4 232.5L1118.4 232.3L1116.3 232.1L1114.3 231.9L1112.2 231.7L1110.2 231.5L1108.2 231.3L1106.1 231.0L1104.1 230.8L1102.1 230.6L1100.0 230.4L1098.0 230.1L1096.0 229.9L1093.9 229.7L1091.9 229.4L1089.9 229.2L1087.8 229.0L1085.8 228.7L1083.7 228.5L1081.7 228.3L1079.6 228.1L1077.6 227.9L1075.5 227.7L1073.5 227.5L1071.4 227.3L1069.4 227.2L1067.3 227.1L1065.3 226.9L1063.2 226.9L1061.2 226.8L1059.1 226.8L1057.1 226.8L1055.0 226.8L1053.0 226.9L1051.0 227.0L1048.9 227.1L1046.9 227.3L1044.8 227.5L1042.8 227.7L1040.8 228.0L1038.7 228.3L1036.7 228.7L1034.7 229.1L1032.7 229.6L1030.7 230.1L1028.8 230.7L1026.8 231.3L1024.9 231.9L1022.9 232.6L1021.0 233.3L1019.1 234.1L1017.2 234.9L1015.3 235.7L1013.5 236.6L1011.6 237.5L1009.8 238.4L1007.9 239.3L1006.1 240.3L1004.3 241.3L1002.5 242.3L1000.8 243.4L999.0 244.4L997.3 245.5L995.5 246.6L993.8 247.7L992.1 248.8L990.4 250.0L988.7 251.2L987.1 252.4L985.5 253.6L983.8 254.9L982.2 256.1L980.6 257.4L979.1 258.7L977.5 260.1L975.9 261.4L974.4 262.7L972.8 264.1L971.3 265.4L969.7 266.7L968.1 268.0L966.5 269.3L964.9 270.6L963.3 271.8L961.6 273.0L959.9 274.2L958.2 275.4L956.5 276.4L954.7 277.5L952.9 278.5L951.1 279.4L949.2 280.3L947.3 281.1L945.4 281.9L943.5 282.6L941.5 283.2L939.5 283.7L937.5 284.1L935.5 284.4L933.4 284.6L931.4 284.7L929.3 284.8L927.3 284.7L925.2 284.5L923.2 284.2L921.2 283.8L919.2 283.3L917.2 282.7L915.3 282.0L913.4 281.2L911.6 280.3L909.7 279.3L908.0 278.3L906.3 277.2L904.6 276.0L903.0 274.7L901.5 273.4L900.0 272.0L898.6 270.6L897.1 269.1L895.8 267.6L894.5 266.0L893.2 264.4L891.9 262.8L890.7 261.1L889.5 259.4L888.3 257.7L887.2 256.0L886.1 254.2L885.0 252.4L883.9 250.7L882.8 248.9L881.7 247.1L880.7 245.3L879.6 243.6L878.6 241.8L877.6 240.0L876.5 238.3L875.5 236.5L874.5 234.7L873.5 232.9L872.5 231.2L871.5 229.4L870.5 227.6L869.5 225.8L868.5 224.1L867.6 222.3L866.6 220.5L865.6 218.7L864.6 216.9L863.7 215.1L862.7 213.3L861.7 211.5L860.8 209.7L859.8 207.9L858.8 206.0L857.9 204.2L856.9 202.4L856.0 200.6L855.0 198.8L854.1 196.9L853.1 195.1L852.2 193.3L851.2 191.5L850.3 189.6L849.3 187.8L848.4 186.0L847.4 184.2L846.5 182.3L845.5 180.5L844.6 178.7L843.6 176.9L842.7 175.1L841.7 173.2L840.7 171.4L839.8 169.6L838.8 167.8L837.9 166.0L836.9 164.2L835.9 162.4L835.0 160.6L834.0 158.8L833.0 157.0L832.0 155.2L831.0 153.4L830.0 151.7L829.0 149.9L827.9 148.1L826.9 146.4L825.8 144.6L824.7 142.9L823.6 141.1L822.5 139.4L821.4 137.7L820.2 136.0L819.0 134.3L817.8 132.6L816.6 131.0L815.4 129.3L814.1 127.7L812.8 126.0L811.4 124.5L810.0 122.9L808.6 121.4L807.2 120.0L805.6 118.6L804.1 117.3L802.5 116.1L800.8 114.9L799.1 113.8L797.4 112.9L795.5 112.0L793.7 111.2L791.7 110.5L789.7 110.0L787.6 109.6Z" fill="#ffff99" stroke="none"/>
<path d="M839.9 -10.0L840.0 -7.0L840.1 -4.0L840.2 -1.0L840.2 2.0L840.3 5.0L840.4 8.1L840.5 11.1L840.6 14.1L840.7 17.1L840.7 20.1L840.8 23.1L840.9 26.1L841.0 29.1L841.1 32.1L841.2 35.1L841.3 38.1L841.4 41.1L841.5 44.2L841.6 47.2L841.7 50.2L841.8 53.2L841.9 56.2L842.0 59.2L842.1 62.2L842.2 65.2L842.3 68.2L842.4 71.2L842.5 74.2L842.6 77.2L842.7 80.2L842.8 83.3L842.9 86.3L843.0 89.3L843.1 92.3L843.2 95.3L843.3 98.3L843.4 101.3L843.5 104.3L843.6 107.3L843.7 110.3L843.8 113.3L844.0 116.3L844.1 119.3L844.2 122.3L844.3 125.4L844.4 128.4L844.5 131.4L844.6 134.4L844.7 137.4L844.9 140.4L845.0 143.4L845.1 146.4L845.2 149.4L845.3 152.4L845.4 155.4L845.5 158.4L845.7 161.5L845.8 164.5L845.9 167.5L846.0 170.5L846.1 173.5L846.2 176.5L846.4 179.5L846.5 182.5L846.6 185.5L846.7 188.5L846.9 191.5L847.0 194.5L847.1 197.5L847.3 200.6L847.4 203.6L847.6 206.6L847.8 209.6L847.9 212.6L848.1 215.6L848.3 218.6L848.5 221.6L848.8 224.6L849.0 227.6L849.3 230.6L849.5 233.6L849.7 236.6L850.0 239.6L850.2 242.6L850.4 245.6L850.6 248.6L850.8 251.6L851.0 254.6L851.2 257.6L851.4 260.6L851.6 263.6L851.8 266.6L852.0 269.6L852.2 272.6L852.4 275.6L852.7 278.6L852.9 281.6L853.2 284.6L853.4 287.6L853.7 290.6L854.0 293.6L854.3 296.6L854.7 299.6L855.1 302.6L855.5 305.5L855.9 308.5L856.4 311.5L856.9 314.4L857.5 317.4L858.1 320.4L858.7 323.3L859.4 326.2L860.4 329.1L861.9 331.9L864.0 334.2L866.3 333.9L868.4 331.7L870.1 329.0L871.5 326.3L872.7 323.5L873.9 320.8L875.1 318.0L876.3 315.2L877.5 312.5L878.7 309.7L879.9 307.0L881.1 304.3L882.3 301.5L883.5 298.8L884.7 296.0L885.9 293.2L887.2 290.5L888.5 287.7L889.8 285.0L891.2 282.3L892.6 279.7L894.1 277.0L895.7 274.5L897.4 272.0L899.2 269.6L901.1 267.3L903.1 265.1L905.2 263.0L907.5 261.0L909.8 259.1L912.3 257.3L914.8 255.7L917.4 254.1L920.1 252.6L922.8 251.3L925.5 250.0L928.3 248.9L931.2 247.8L934.0 246.8L936.9 246.0L939.8 245.2L942.7 244.5L945.6 243.8L948.6 243.2L951.5 242.6L954.5 242.1L957.4 241.6L960.4 241.1L963.4 240.6L966.4 240.2L969.3 239.8L972.3 239.4L975.3 239.0L978.3 238.6L981.3 238.2L984.3 237.9L987.3 237.6L990.3 237.3L993.3 237.0L996.3 236.7L999.3 236.5L1002.3 236.2L1005.3 236.0L1008.3 235.8L1011.3 235.6L1014.3 235.4L1017.3 235.2L1020.3 235.0L1023.3 234.9L1026.3 234.8L1029.3 234.6L1032.3 234.5L1035.3 234.4L1038.3 234.3L1041.3 234.2L1044.3 234.1L1047.3 234.1L1050.3 234.0L1053.4 234.0L1056.4 233.9L1059.4 233.9L1062.4 233.8L1065.4 233.8L1068.4 233.8L1071.4 233.7L1074.4 233.7L1077.4 233.7L1080.5 233.7L1083.5 233.7L1086.5 233.6L1089.5 233.6L1092.5 233.6L1095.5 233.6L1098.5 233.6L1101.5 233.6L1104.5 233.6L1107.5 233.6L1110.6 233.6L1113.6 233.5L1116.6 233.5L1119.6 233.5L1122.6 233.5L1125.6 233.4L1128.6 233.4" stroke="#ff0000" stroke-width="2.78" stroke-dasharray="8.7 8.0" stroke-dashoffset="-8.38"/>
<path d="M829.4 -10.0L829.9 -7.4L830.4 -4.8L830.9 -2.1L831.4 0.5L831.9 3.1L832.4 5.7L832.9 8.4L833.4 11.0L833.9 13.6L834.4 16.2L834.9 18.8L835.4 21.5L835.9 24.1L836.4 26.7L836.9 29.3L837.4 31.9L837.9 34.6L838.5 37.2L839.0 39.8L839.5 42.4L840.0 45.0L840.5 47.7L841.0 50.3L841.5 52.9L842.0 55.5L842.5 58.1L843.1 60.8L843.6 63.4L844.1 66.0L844.6 68.6L845.1 71.2L845.6 73.8L846.2 76.5L846.7 79.1L847.2 81.7L847.7 84.3L848.3 86.9L848.8 89.5L849.3 92.1L849.8 94.8L850.4 97.4L850.9 100.0L851.4 102.6L851.9 105.2L852.5 107.8L853.0 110.4L853.5 113.1L854.1 115.7L854.6 118.3L855.1 120.9L855.7 123.5L856.2 126.1L856.8 128.7L857.3 131.4L857.8 134.0L858.4 136.6L858.9 139.2L859.5 141.8L860.0 144.4L860.5 147.0L861.1 149.6L861.6 152.3L862.2 154.9L862.7 157.5L863.3 160.1L863.8 162.7L864.4 165.3L864.9 167.9L865.5 170.5L866.0 173.1L866.6 175.8L867.1 178.4L867.7 181.0L868.2 183.6L868.8 186.2L869.4 188.8L869.9 191.4L870.5 194.0L871.0 196.6L871.6 199.3L872.2 201.9L872.7 204.5L873.3 207.1L873.9 209.7L874.4 212.3L875.0 214.9L875.6 217.5L876.1 220.1L876.7 222.8L877.3 225.4L877.8 228.0L878.4 230.6L879.0 233.2L879.6 235.8L880.2 238.4L880.9 241.0L881.5 243.6L882.2 246.1L883.0 248.7L883.7 251.2L884.5 253.8L885.4 256.3L886.3 258.8L887.2 261.2L888.2 263.7L889.2 266.2L890.3 268.6L891.3 271.1L892.4 273.5L893.5 276.0L894.7 278.4L895.8 280.8L896.9 283.3L898.1 285.7L899.4 288.1L900.6 290.5L902.0 292.8L903.4 295.0L905.0 297.2L906.6 299.3L908.4 301.3L910.3 303.2L912.3 305.0L914.5 306.6L916.8 307.9L919.3 308.9L921.8 309.3L924.4 309.2L927.0 308.5L929.5 307.6L931.8 306.3L934.0 304.8L936.1 303.2L938.1 301.4L940.0 299.4L941.8 297.4L943.6 295.3L945.4 293.2L947.1 291.2L948.8 289.1L950.5 287.0L952.2 285.0L953.9 282.9L955.6 280.8L957.2 278.8L958.8 276.7L960.5 274.6L962.1 272.5L963.7 270.4L965.3 268.3L966.8 266.2L968.4 264.1L970.0 261.9L971.5 259.7L973.1 257.5L974.7 255.3L976.3 253.1L977.9 251.0L979.5 248.9L981.3 246.9L983.1 244.9L984.9 243.0L986.7 241.1L988.6 239.2L990.5 237.3L992.5 235.5L994.5 233.7L996.5 232.0L998.6 230.3L1000.8 228.7L1003.0 227.3L1005.4 226.1L1007.8 225.0L1010.3 224.0L1012.8 223.2L1015.4 222.5L1018.0 222.0L1020.7 221.6L1023.4 221.4L1026.0 221.2L1028.7 221.2L1031.4 221.3L1034.0 221.4L1036.7 221.7L1039.3 222.1L1041.9 222.6L1044.6 223.1L1047.2 223.7L1049.7 224.3L1052.3 225.0L1054.9 225.7L1057.5 226.3L1060.1 227.0L1062.7 227.7L1065.3 228.4L1067.8 229.0L1070.4 229.7L1073.0 230.3L1075.6 230.9L1078.2 231.5L1080.8 232.1L1083.4 232.6L1086.1 233.1L1088.7 233.6L1091.3 234.0L1093.9 234.4L1096.6 234.7L1099.3 235.0L1101.9 235.2L1104.6 235.3L1107.3 235.5L1109.9 235.5L1112.6 235.6L1115.3 235.6L1117.9 235.6L1120.6 235.6L1123.3 235.5L1125.9 235.4L1128.6 235.3" stroke="#0000ff" stroke-width="2.78" stroke-dasharray="8.7 8.0" stroke-dashoffset="-8.71"/>
<path d="M787.6 242.9L789.2 243.0L790.9 243.2L792.5 243.5L794.1 243.8L795.7 244.1L797.2 244.5L798.8 244.9L800.3 245.3L801.9 245.8L803.4 246.3L804.9 246.8L806.5 247.3L808.0 247.9L809.5 248.5L811.0 249.1L812.5 249.7L814.0 250.4L815.4 251.0L816.9 251.7L818.4 252.4L819.9 253.1L821.3 253.8L822.8 254.5L824.3 255.2L825.7 255.9L827.2 256.6L828.6 257.3L830.1 258.0L831.6 258.7L833.0 259.4L834.5 260.1L836.0 260.8L837.5 261.5L838.9 262.2L840.4 262.8L841.9 263.5L843.4 264.1L844.9 264.7L846.4 265.3L847.9 266.0L849.4 266.5L850.9 267.1L852.4 267.7L853.9 268.3L855.4 268.8L857.0 269.3L858.5 269.9L860.0 270.4L861.6 270.9L863.1 271.3L864.7 271.8L866.2 272.2L867.8 272.7L869.4 273.1L871.0 273.5L872.6 273.9L874.2 274.2L875.8 274.6L877.4 274.9L879.0 275.2L880.6 275.4L882.2 275.7L883.8 275.9L885.4 276.0L887.0 276.2L888.6 276.3L890.3 276.3L891.9 276.4L893.5 276.4L895.1 276.3L896.7 276.2L898.3 276.1L899.9 275.9L901.4 275.7L903.0 275.4L904.6 275.1L906.2 274.7L907.7 274.3L909.3 273.8L910.8 273.3L912.3 272.8L913.9 272.2L915.4 271.6L916.9 271.0L918.4 270.4L919.9 269.8L921.5 269.1L923.0 268.4L924.4 267.8L925.9 267.1L927.4 266.4L928.9 265.7L930.4 265.1L931.8 264.4L933.3 263.7L934.8 263.0L936.2 262.3L937.7 261.6L939.2 260.9L940.6 260.2L942.1 259.5L943.5 258.8L945.0 258.1L946.4 257.4L947.9 256.7L949.4 256.0L950.8 255.3L952.3 254.6L953.7 253.9L955.2 253.2L956.7 252.5L958.1 251.8L959.6 251.1L961.1 250.5L962.5 249.8L964.0 249.1L965.5 248.5L967.0 247.8L968.5 247.2L970.0 246.5L971.4 245.9L972.9 245.3L974.5 244.7L976.0 244.1L977.5 243.5L979.0 242.9L980.5 242.4L982.1 241.8L983.6 241.3L985.1 240.8L986.7 240.3L988.2 239.8L989.8 239.3L991.3 238.9L992.9 238.5L994.5 238.0L996.0 237.6L997.6 237.3L999.2 236.9L1000.8 236.6L1002.3 236.2L1003.9 235.9L1005.5 235.7L1007.1 235.4L1008.7 235.2L1010.3 234.9L1011.9 234.7L1013.5 234.5L1015.1 234.4L1016.8 234.2L1018.4 234.1L1020.0 233.9L1021.6 233.8L1023.2 233.7L1024.9 233.6L1026.5 233.5L1028.1 233.4L1029.7 233.4L1031.3 233.3L1033.0 233.2L1034.6 233.2L1036.2 233.1L1037.8 233.1L1039.5 233.1L1041.1 233.0L1042.7 233.0L1044.3 233.0L1046.0 232.9L1047.6 232.9L1049.2 232.9L1050.8 232.9L1052.4 232.9L1054.1 232.9L1055.7 232.9L1057.3 232.9L1058.9 232.9L1060.5 232.9L1062.2 232.9L1063.8 232.9L1065.4 232.9L1067.0 232.9L1068.6 232.9L1070.3 232.9L1071.9 232.9L1073.5 232.9L1075.1 233.0L1076.7 233.0L1078.4 233.0L1080.0 233.0L1081.6 233.0L1083.2 233.1L1084.8 233.1L1086.4 233.1L1088.1 233.1L1089.7 233.1L1091.3 233.2L1092.9 233.2L1094.5 233.2L1096.2 233.2L1097.8 233.2L1099.4 233.2L1101.0 233.3L1102.6 233.3L1104.3 233.3L1105.9 233.3L1107.5 233.3L1109.1 233.3L1110.7 233.3L1112.4 233.3L1114.0 233.3L1115.6 233.3L1117.2 233.3L1118.9 233.3L1120.5 233.3L1122.1 233.3L1123.7 233.3L1125.4 233.2L1127.0 233.2L1128.6 233.2" stroke="#ff0000" stroke-width="2.78"/>
<path d="M787.6 109.6L789.7 110.0L791.7 110.5L793.7 111.2L795.5 112.0L797.4 112.9L799.1 113.8L800.8 114.9L802.5 116.1L804.1 117.3L805.6 118.6L807.2 120.0L808.6 121.4L810.0 122.9L811.4 124.5L812.8 126.0L814.1 127.7L815.4 129.3L816.6 131.0L817.8 132.6L819.0 134.3L820.2 136.0L821.4 137.7L822.5 139.4L823.6 141.1L824.7 142.9L825.8 144.6L826.9 146.4L827.9 148.1L829.0 149.9L830.0 151.7L831.0 153.4L832.0 155.2L833.0 157.0L834.0 158.8L835.0 160.6L835.9 162.4L836.9 164.2L837.9 166.0L838.8 167.8L839.8 169.6L840.7 171.4L841.7 173.2L842.7 175.1L843.6 176.9L844.6 178.7L845.5 180.5L846.5 182.3L847.4 184.2L848.4 186.0L849.3 187.8L850.3 189.6L851.2 191.5L852.2 193.3L853.1 195.1L854.1 196.9L855.0 198.8L856.0 200.6L856.9 202.4L857.9 204.2L858.8 206.0L859.8 207.9L860.8 209.7L861.7 211.5L862.7 213.3L863.7 215.1L864.6 216.9L865.6 218.7L866.6 220.5L867.6 222.3L868.5 224.1L869.5 225.8L870.5 227.6L871.5 229.4L872.5 231.2L873.5 232.9L874.5 234.7L875.5 236.5L876.5 238.3L877.6 240.0L878.6 241.8L879.6 243.6L880.7 245.3L881.7 247.1L882.8 248.9L883.9 250.7L885.0 252.4L886.1 254.2L887.2 256.0L888.3 257.7L889.5 259.4L890.7 261.1L891.9 262.8L893.2 264.4L894.5 266.0L895.8 267.6L897.1 269.1L898.6 270.6L900.0 272.0L901.5 273.4L903.0 274.7L904.6 276.0L906.3 277.2L908.0 278.3L909.7 279.3L911.6 280.3L913.4 281.2L915.3 282.0L917.2 282.7L919.2 283.3L921.2 283.8L923.2 284.2L925.2 284.5L927.3 284.7L929.3 284.8L931.4 284.7L933.4 284.6L935.5 284.4L937.5 284.1L939.5 283.7L941.5 283.2L943.5 282.6L945.4 281.9L947.3 281.1L949.2 280.3L951.1 279.4L952.9 278.5L954.7 277.5L956.5 276.4L958.2 275.4L959.9 274.2L961.6 273.0L963.3 271.8L964.9 270.6L966.5 269.3L968.1 268.0L969.7 266.7L971.3 265.4L972.8 264.1L974.4 262.7L975.9 261.4L977.5 260.1L979.1 258.7L980.6 257.4L982.2 256.1L983.8 254.9L985.5 253.6L987.1 252.4L988.7 251.2L990.4 250.0L992.1 248.8L993.8 247.7L995.5 246.6L997.3 245.5L999.0 244.4L1000.8 243.4L1002.5 242.3L1004.3 241.3L1006.1 240.3L1007.9 239.3L1009.8 238.4L1011.6 237.5L1013.5 236.6L1015.3 235.7L1017.2 234.9L1019.1 234.1L1021.0 233.3L1022.9 232.6L1024.9 231.9L1026.8 231.3L1028.8 230.7L1030.7 230.1L1032.7 229.6L1034.7 229.1L1036.7 228.7L1038.7 228.3L1040.8 228.0L1042.8 227.7L1044.8 227.5L1046.9 227.3L1048.9 227.1L1051.0 227.0L1053.0 226.9L1055.0 226.8L1057.1 226.8L1059.1 226.8L1061.2 226.8L1063.2 226.9L1065.3 226.9L1067.3 227.1L1069.4 227.2L1071.4 227.3L1073.5 227.5L1075.5 227.7L1077.6 227.9L1079.6 228.1L1081.7 228.3L1083.7 228.5L1085.8 228.7L1087.8 229.0L1089.9 229.2L1091.9 229.4L1093.9 229.7L1096.0 229.9L1098.0 230.1L1100.0 230.4L1102.1 230.6L1104.1 230.8L1106.1 231.0L1108.2 231.3L1110.2 231.5L1112.2 231.7L1114.3 231.9L1116.3 232.1L1118.4 232.3L1120.4 232.5L1122.4 232.7L1124.5 232.9L1126.6 233.1L1128.6 233.2" stroke="#0000ff" stroke-width="2.78"/>
<path d="M787.5 233.5H1128.5" stroke="#000" stroke-width="3" stroke-dasharray="1.45 4.105"/>
</g>
<g clip-path="url(#c3)" fill="none" stroke-linejoin="round">
<path d="M1128.6 308.2L1130.2 308.2L1131.8 308.2L1133.4 308.2L1135.1 308.2L1136.7 308.1L1138.3 308.1L1139.9 308.0L1141.5 307.9L1143.1 307.8L1144.7 307.7L1146.4 307.6L1148.0 307.4L1149.6 307.3L1151.2 307.1L1152.8 306.9L1154.4 306.7L1155.9 306.5L1157.5 306.2L1159.1 306.0L1160.7 305.7L1162.3 305.5L1163.9 305.2L1165.4 304.9L1167.0 304.5L1168.6 304.2L1170.2 303.9L1171.7 303.5L1173.3 303.2L1174.9 302.8L1176.4 302.4L1178.0 302.0L1179.5 301.6L1181.1 301.2L1182.6 300.8L1184.2 300.3L1185.7 299.9L1187.3 299.4L1188.8 298.9L1190.4 298.5L1191.9 298.0L1193.4 297.5L1195.0 297.0L1196.5 296.5L1198.0 296.0L1199.5 295.5L1201.1 294.9L1202.6 294.4L1204.1 293.8L1205.6 293.3L1207.1 292.7L1208.6 292.2L1210.2 291.6L1211.7 291.0L1213.2 290.5L1214.7 289.9L1216.2 289.3L1217.7 288.7L1219.2 288.1L1220.7 287.5L1222.2 286.9L1223.7 286.3L1225.1 285.7L1226.6 285.1L1228.1 284.5L1229.6 283.9L1231.1 283.3L1232.6 282.6L1234.1 282.0L1235.6 281.4L1237.0 280.8L1238.5 280.1L1240.0 279.5L1241.5 278.9L1243.0 278.3L1244.5 277.6L1245.9 277.0L1247.4 276.4L1248.9 275.8L1250.4 275.1L1251.9 274.5L1253.4 273.9L1254.9 273.3L1256.3 272.7L1257.8 272.1L1259.3 271.4L1260.8 270.8L1262.3 270.2L1263.8 269.6L1265.3 269.0L1266.8 268.4L1268.3 267.8L1269.8 267.3L1271.3 266.7L1272.8 266.1L1274.3 265.5L1275.8 265.0L1277.3 264.4L1278.8 263.8L1280.3 263.3L1281.8 262.7L1283.4 262.2L1284.9 261.7L1286.4 261.1L1287.9 260.6L1289.4 260.1L1291.0 259.6L1292.5 259.1L1294.0 258.5L1295.5 258.0L1297.1 257.5L1298.6 257.0L1300.1 256.5L1301.7 256.0L1303.2 255.5L1304.7 255.0L1306.2 254.5L1307.8 254.0L1309.3 253.5L1310.8 252.9L1312.4 252.4L1313.9 251.9L1315.4 251.4L1317.0 250.9L1318.5 250.4L1320.0 249.9L1321.6 249.5L1323.1 249.0L1324.6 248.5L1326.2 248.0L1327.7 247.5L1329.3 247.1L1330.8 246.6L1332.3 246.1L1333.9 245.7L1335.4 245.2L1337.0 244.8L1338.5 244.4L1340.1 243.9L1341.6 243.5L1343.2 243.1L1344.8 242.7L1346.3 242.3L1347.9 242.0L1349.5 241.6L1351.0 241.2L1352.6 240.9L1354.2 240.5L1355.7 240.2L1357.3 239.9L1358.9 239.6L1360.5 239.3L1362.1 239.0L1363.6 238.7L1365.2 238.4L1366.8 238.1L1368.4 237.9L1370.0 237.6L1371.6 237.4L1373.2 237.1L1374.8 236.9L1376.4 236.7L1378.0 236.5L1379.5 236.3L1381.1 236.1L1382.7 235.9L1384.3 235.7L1385.9 235.5L1387.5 235.3L1389.1 235.1L1390.7 235.0L1392.3 234.8L1393.9 234.7L1395.6 234.5L1397.2 234.4L1398.8 234.3L1400.4 234.1L1402.0 234.0L1403.6 233.9L1405.2 233.8L1406.8 233.7L1408.4 233.6L1410.0 233.5L1411.6 233.4L1413.2 233.3L1414.8 233.2L1416.5 233.1L1418.1 233.1L1419.7 233.0L1421.3 232.9L1422.9 232.9L1424.5 232.8L1426.1 232.8L1427.7 232.7L1429.4 232.7L1431.0 232.6L1432.6 232.6L1434.2 232.6L1435.8 232.5L1437.4 232.5L1439.0 232.5L1440.6 232.5L1442.2 232.4L1443.9 232.4L1445.5 232.4L1447.1 232.4L1448.7 232.4L1450.3 232.4L1451.9 232.4L1453.5 232.4L1455.1 232.4L1456.7 232.4L1458.3 232.4L1460.0 232.4L1461.6 232.4L1463.2 232.4L1464.8 232.4L1466.4 232.4L1468.0 232.4L1469.6 232.4L1469.6 231.2L1468.0 231.2L1466.4 231.2L1464.9 231.2L1463.3 231.2L1461.7 231.2L1460.2 231.2L1458.6 231.2L1457.0 231.2L1455.4 231.2L1453.9 231.3L1452.3 231.3L1450.7 231.3L1449.1 231.3L1447.5 231.4L1446.0 231.4L1444.4 231.4L1442.8 231.5L1441.2 231.5L1439.6 231.6L1438.0 231.6L1436.5 231.7L1434.9 231.7L1433.3 231.8L1431.7 231.9L1430.1 232.0L1428.5 232.0L1427.0 232.1L1425.4 232.2L1423.8 232.3L1422.2 232.4L1420.6 232.6L1419.1 232.7L1417.5 232.8L1415.9 233.0L1414.3 233.1L1412.8 233.3L1411.2 233.4L1409.6 233.6L1408.0 233.8L1406.5 234.0L1404.9 234.2L1403.3 234.4L1401.8 234.6L1400.2 234.8L1398.7 235.1L1397.1 235.3L1395.5 235.6L1394.0 235.9L1392.4 236.1L1390.9 236.4L1389.3 236.7L1387.8 237.1L1386.3 237.4L1384.7 237.7L1383.2 238.1L1381.6 238.4L1380.1 238.8L1378.6 239.1L1377.0 239.5L1375.5 239.9L1374.0 240.3L1372.5 240.7L1370.9 241.1L1369.4 241.5L1367.9 241.9L1366.4 242.3L1364.9 242.7L1363.3 243.2L1361.8 243.6L1360.3 244.1L1358.8 244.5L1357.3 244.9L1355.8 245.4L1354.2 245.9L1352.7 246.3L1351.2 246.8L1349.7 247.2L1348.2 247.7L1346.7 248.2L1345.2 248.6L1343.7 249.1L1342.2 249.6L1340.6 250.1L1339.1 250.5L1337.6 251.0L1336.1 251.5L1334.6 252.0L1333.1 252.4L1331.6 252.9L1330.1 253.4L1328.6 253.8L1327.0 254.3L1325.5 254.8L1324.0 255.2L1322.5 255.7L1321.0 256.1L1319.5 256.6L1318.0 257.0L1316.4 257.5L1314.9 257.9L1313.4 258.3L1311.9 258.7L1310.4 259.2L1308.8 259.6L1307.3 260.0L1305.8 260.4L1304.3 260.8L1302.7 261.2L1301.2 261.6L1299.7 261.9L1298.1 262.3L1296.6 262.7L1295.1 263.0L1293.5 263.4L1292.0 263.7L1290.5 264.1L1288.9 264.4L1287.4 264.7L1285.8 265.1L1284.3 265.4L1282.7 265.7L1281.2 266.0L1279.6 266.3L1278.1 266.6L1276.5 266.9L1275.0 267.2L1273.4 267.5L1271.9 267.8L1270.3 268.1L1268.8 268.4L1267.2 268.6L1265.6 268.9L1264.1 269.1L1262.5 269.4L1261.0 269.6L1259.4 269.8L1257.8 270.0L1256.3 270.2L1254.7 270.4L1253.1 270.6L1251.6 270.8L1250.0 271.0L1248.4 271.2L1246.8 271.3L1245.3 271.5L1243.7 271.6L1242.1 271.7L1240.5 271.9L1239.0 272.0L1237.4 272.1L1235.8 272.2L1234.2 272.3L1232.7 272.4L1231.1 272.4L1229.5 272.5L1227.9 272.6L1226.4 272.6L1224.8 272.6L1223.2 272.7L1221.6 272.7L1220.1 272.7L1218.5 272.7L1216.9 272.7L1215.3 272.7L1213.7 272.7L1212.2 272.6L1210.6 272.6L1209.0 272.6L1207.4 272.5L1205.9 272.5L1204.3 272.4L1202.7 272.3L1201.1 272.3L1199.5 272.2L1198.0 272.1L1196.4 272.0L1194.8 271.9L1193.2 271.8L1191.7 271.7L1190.1 271.6L1188.5 271.5L1186.9 271.4L1185.3 271.3L1183.8 271.2L1182.2 271.1L1180.6 271.0L1179.0 270.8L1177.5 270.7L1175.9 270.6L1174.3 270.5L1172.7 270.3L1171.2 270.2L1169.6 270.1L1168.0 270.0L1166.4 269.8L1164.8 269.7L1163.3 269.6L1161.7 269.5L1160.1 269.3L1158.5 269.2L1157.0 269.1L1155.4 269.0L1153.8 268.9L1152.2 268.7L1150.7 268.6L1149.1 268.5L1147.5 268.4L1145.9 268.3L1144.4 268.2L1142.8 268.1L1141.2 268.0L1139.6 268.0L1138.1 267.9L1136.5 267.8L1134.9 267.7L1133.3 267.7L1131.8 267.6L1130.2 267.6L1128.6 267.5Z" fill="#ffff99" stroke="none"/>
<path d="M1180.9 -10.0L1181.0 -7.0L1181.1 -4.0L1181.2 -1.0L1181.2 2.0L1181.3 5.0L1181.4 8.1L1181.5 11.1L1181.6 14.1L1181.7 17.1L1181.7 20.1L1181.8 23.1L1181.9 26.1L1182.0 29.1L1182.1 32.1L1182.2 35.1L1182.3 38.1L1182.4 41.1L1182.5 44.2L1182.6 47.2L1182.7 50.2L1182.8 53.2L1182.9 56.2L1183.0 59.2L1183.1 62.2L1183.2 65.2L1183.3 68.2L1183.4 71.2L1183.5 74.2L1183.6 77.2L1183.7 80.2L1183.8 83.3L1183.9 86.3L1184.0 89.3L1184.1 92.3L1184.2 95.3L1184.3 98.3L1184.4 101.3L1184.5 104.3L1184.6 107.3L1184.7 110.3L1184.8 113.3L1185.0 116.3L1185.1 119.3L1185.2 122.3L1185.3 125.4L1185.4 128.4L1185.5 131.4L1185.6 134.4L1185.7 137.4L1185.9 140.4L1186.0 143.4L1186.1 146.4L1186.2 149.4L1186.3 152.4L1186.4 155.4L1186.5 158.4L1186.7 161.5L1186.8 164.5L1186.9 167.5L1187.0 170.5L1187.1 173.5L1187.2 176.5L1187.4 179.5L1187.5 182.5L1187.6 185.5L1187.7 188.5L1187.9 191.5L1188.0 194.5L1188.1 197.5L1188.3 200.6L1188.4 203.6L1188.6 206.6L1188.8 209.6L1188.9 212.6L1189.1 215.6L1189.3 218.6L1189.5 221.6L1189.8 224.6L1190.0 227.6L1190.3 230.6L1190.5 233.6L1190.7 236.6L1191.0 239.6L1191.2 242.6L1191.4 245.6L1191.6 248.6L1191.8 251.6L1192.0 254.6L1192.2 257.6L1192.4 260.6L1192.6 263.6L1192.8 266.6L1193.0 269.6L1193.2 272.6L1193.4 275.6L1193.7 278.6L1193.9 281.6L1194.2 284.6L1194.4 287.6L1194.7 290.6L1195.0 293.6L1195.3 296.6L1195.7 299.6L1196.1 302.6L1196.5 305.5L1196.9 308.5L1197.4 311.5L1197.9 314.4L1198.5 317.4L1199.1 320.4L1199.7 323.3L1200.4 326.2L1201.4 329.1L1202.9 331.9L1205.0 334.2L1207.3 333.9L1209.4 331.7L1211.1 329.0L1212.5 326.3L1213.7 323.5L1214.9 320.8L1216.1 318.0L1217.3 315.2L1218.5 312.5L1219.7 309.7L1220.9 307.0L1222.1 304.3L1223.3 301.5L1224.5 298.8L1225.7 296.0L1226.9 293.2L1228.2 290.5L1229.5 287.7L1230.8 285.0L1232.2 282.3L1233.6 279.7L1235.1 277.0L1236.7 274.5L1238.4 272.0L1240.2 269.6L1242.1 267.3L1244.1 265.1L1246.2 263.0L1248.5 261.0L1250.8 259.1L1253.3 257.3L1255.8 255.7L1258.4 254.1L1261.1 252.6L1263.8 251.3L1266.5 250.0L1269.3 248.9L1272.2 247.8L1275.0 246.8L1277.9 246.0L1280.8 245.2L1283.7 244.5L1286.6 243.8L1289.6 243.2L1292.5 242.6L1295.5 242.1L1298.4 241.6L1301.4 241.1L1304.4 240.6L1307.4 240.2L1310.3 239.8L1313.3 239.4L1316.3 239.0L1319.3 238.6L1322.3 238.2L1325.3 237.9L1328.3 237.6L1331.3 237.3L1334.3 237.0L1337.3 236.7L1340.3 236.5L1343.3 236.2L1346.3 236.0L1349.3 235.8L1352.3 235.6L1355.3 235.4L1358.3 235.2L1361.3 235.0L1364.3 234.9L1367.3 234.8L1370.3 234.6L1373.3 234.5L1376.3 234.4L1379.3 234.3L1382.3 234.2L1385.3 234.1L1388.3 234.1L1391.3 234.0L1394.4 234.0L1397.4 233.9L1400.4 233.9L1403.4 233.8L1406.4 233.8L1409.4 233.8L1412.4 233.7L1415.4 233.7L1418.4 233.7L1421.5 233.7L1424.5 233.7L1427.5 233.6L1430.5 233.6L1433.5 233.6L1436.5 233.6L1439.5 233.6L1442.5 233.6L1445.5 233.6L1448.5 233.6L1451.6 233.6L1454.6 233.5L1457.6 233.5L1460.6 233.5L1463.6 233.5L1466.6 233.4L1469.6 233.4" stroke="#ff0000" stroke-width="2.78" stroke-dasharray="8.7 8.0" stroke-dashoffset="-8.38"/>
<path d="M1170.4 -10.0L1170.9 -7.4L1171.4 -4.8L1171.9 -2.1L1172.4 0.5L1172.9 3.1L1173.4 5.7L1173.9 8.4L1174.4 11.0L1174.9 13.6L1175.4 16.2L1175.9 18.8L1176.4 21.5L1176.9 24.1L1177.4 26.7L1177.9 29.3L1178.4 31.9L1178.9 34.6L1179.5 37.2L1180.0 39.8L1180.5 42.4L1181.0 45.0L1181.5 47.7L1182.0 50.3L1182.5 52.9L1183.0 55.5L1183.5 58.1L1184.1 60.8L1184.6 63.4L1185.1 66.0L1185.6 68.6L1186.1 71.2L1186.6 73.8L1187.2 76.5L1187.7 79.1L1188.2 81.7L1188.7 84.3L1189.3 86.9L1189.8 89.5L1190.3 92.1L1190.8 94.8L1191.4 97.4L1191.9 100.0L1192.4 102.6L1192.9 105.2L1193.5 107.8L1194.0 110.4L1194.5 113.1L1195.1 115.7L1195.6 118.3L1196.1 120.9L1196.7 123.5L1197.2 126.1L1197.8 128.7L1198.3 131.4L1198.8 134.0L1199.4 136.6L1199.9 139.2L1200.5 141.8L1201.0 144.4L1201.5 147.0L1202.1 149.6L1202.6 152.3L1203.2 154.9L1203.7 157.5L1204.3 160.1L1204.8 162.7L1205.4 165.3L1205.9 167.9L1206.5 170.5L1207.0 173.1L1207.6 175.8L1208.1 178.4L1208.7 181.0L1209.2 183.6L1209.8 186.2L1210.4 188.8L1210.9 191.4L1211.5 194.0L1212.0 196.6L1212.6 199.3L1213.2 201.9L1213.7 204.5L1214.3 207.1L1214.9 209.7L1215.4 212.3L1216.0 214.9L1216.6 217.5L1217.1 220.1L1217.7 222.8L1218.3 225.4L1218.8 228.0L1219.4 230.6L1220.0 233.2L1220.6 235.8L1221.2 238.4L1221.9 241.0L1222.5 243.6L1223.2 246.1L1224.0 248.7L1224.7 251.2L1225.5 253.8L1226.4 256.3L1227.3 258.8L1228.2 261.2L1229.2 263.7L1230.2 266.2L1231.3 268.6L1232.3 271.1L1233.4 273.5L1234.5 276.0L1235.7 278.4L1236.8 280.8L1237.9 283.3L1239.1 285.7L1240.4 288.1L1241.6 290.5L1243.0 292.8L1244.4 295.0L1246.0 297.2L1247.6 299.3L1249.4 301.3L1251.3 303.2L1253.3 305.0L1255.5 306.6L1257.8 307.9L1260.3 308.9L1262.8 309.3L1265.4 309.2L1268.0 308.5L1270.5 307.6L1272.8 306.3L1275.0 304.8L1277.1 303.2L1279.1 301.4L1281.0 299.4L1282.8 297.4L1284.6 295.3L1286.4 293.2L1288.1 291.2L1289.8 289.1L1291.5 287.0L1293.2 285.0L1294.9 282.9L1296.6 280.8L1298.2 278.8L1299.8 276.7L1301.5 274.6L1303.1 272.5L1304.7 270.4L1306.3 268.3L1307.8 266.2L1309.4 264.1L1311.0 261.9L1312.5 259.7L1314.1 257.5L1315.7 255.3L1317.3 253.1L1318.9 251.0L1320.5 248.9L1322.3 246.9L1324.1 244.9L1325.9 243.0L1327.7 241.1L1329.6 239.2L1331.5 237.3L1333.5 235.5L1335.5 233.7L1337.5 232.0L1339.6 230.3L1341.8 228.7L1344.0 227.3L1346.4 226.1L1348.8 225.0L1351.3 224.0L1353.8 223.2L1356.4 222.5L1359.0 222.0L1361.7 221.6L1364.4 221.4L1367.0 221.2L1369.7 221.2L1372.4 221.3L1375.0 221.4L1377.7 221.7L1380.3 222.1L1382.9 222.6L1385.6 223.1L1388.2 223.7L1390.7 224.3L1393.3 225.0L1395.9 225.7L1398.5 226.3L1401.1 227.0L1403.7 227.7L1406.3 228.4L1408.8 229.0L1411.4 229.7L1414.0 230.3L1416.6 230.9L1419.2 231.5L1421.8 232.1L1424.4 232.6L1427.1 233.1L1429.7 233.6L1432.3 234.0L1434.9 234.4L1437.6 234.7L1440.3 235.0L1442.9 235.2L1445.6 235.3L1448.3 235.5L1450.9 235.5L1453.6 235.6L1456.3 235.6L1458.9 235.6L1461.6 235.6L1464.3 235.5L1466.9 235.4L1469.6 235.3" stroke="#0000ff" stroke-width="2.78" stroke-dasharray="8.7 8.0" stroke-dashoffset="-8.71"/>
<path d="M1128.6 308.2L1130.2 308.2L1131.8 308.2L1133.4 308.2L1135.1 308.2L1136.7 308.1L1138.3 308.1L1139.9 308.0L1141.5 307.9L1143.1 307.8L1144.7 307.7L1146.4 307.6L1148.0 307.4L1149.6 307.3L1151.2 307.1L1152.8 306.9L1154.4 306.7L1155.9 306.5L1157.5 306.2L1159.1 306.0L1160.7 305.7L1162.3 305.5L1163.9 305.2L1165.4 304.9L1167.0 304.5L1168.6 304.2L1170.2 303.9L1171.7 303.5L1173.3 303.2L1174.9 302.8L1176.4 302.4L1178.0 302.0L1179.5 301.6L1181.1 301.2L1182.6 300.8L1184.2 300.3L1185.7 299.9L1187.3 299.4L1188.8 298.9L1190.4 298.5L1191.9 298.0L1193.4 297.5L1195.0 297.0L1196.5 296.5L1198.0 296.0L1199.5 295.5L1201.1 294.9L1202.6 294.4L1204.1 293.8L1205.6 293.3L1207.1 292.7L1208.6 292.2L1210.2 291.6L1211.7 291.0L1213.2 290.5L1214.7 289.9L1216.2 289.3L1217.7 288.7L1219.2 288.1L1220.7 287.5L1222.2 286.9L1223.7 286.3L1225.1 285.7L1226.6 285.1L1228.1 284.5L1229.6 283.9L1231.1 283.3L1232.6 282.6L1234.1 282.0L1235.6 281.4L1237.0 280.8L1238.5 280.1L1240.0 279.5L1241.5 278.9L1243.0 278.3L1244.5 277.6L1245.9 277.0L1247.4 276.4L1248.9 275.8L1250.4 275.1L1251.9 274.5L1253.4 273.9L1254.9 273.3L1256.3 272.7L1257.8 272.1L1259.3 271.4L1260.8 270.8L1262.3 270.2L1263.8 269.6L1265.3 269.0L1266.8 268.4L1268.3 267.8L1269.8 267.3L1271.3 266.7L1272.8 266.1L1274.3 265.5L1275.8 265.0L1277.3 264.4L1278.8 263.8L1280.3 263.3L1281.8 262.7L1283.4 262.2L1284.9 261.7L1286.4 261.1L1287.9 260.6L1289.4 260.1L1291.0 259.6L1292.5 259.1L1294.0 258.5L1295.5 258.0L1297.1 257.5L1298.6 257.0L1300.1 256.5L1301.7 256.0L1303.2 255.5L1304.7 255.0L1306.2 254.5L1307.8 254.0L1309.3 253.5L1310.8 252.9L1312.4 252.4L1313.9 251.9L1315.4 251.4L1317.0 250.9L1318.5 250.4L1320.0 249.9L1321.6 249.5L1323.1 249.0L1324.6 248.5L1326.2 248.0L1327.7 247.5L1329.3 247.1L1330.8 246.6L1332.3 246.1L1333.9 245.7L1335.4 245.2L1337.0 244.8L1338.5 244.4L1340.1 243.9L1341.6 243.5L1343.2 243.1L1344.8 242.7L1346.3 242.3L1347.9 242.0L1349.5 241.6L1351.0 241.2L1352.6 240.9L1354.2 240.5L1355.7 240.2L1357.3 239.9L1358.9 239.6L1360.5 239.3L1362.1 239.0L1363.6 238.7L1365.2 238.4L1366.8 238.1L1368.4 237.9L1370.0 237.6L1371.6 237.4L1373.2 237.1L1374.8 236.9L1376.4 236.7L1378.0 236.5L1379.5 236.3L1381.1 236.1L1382.7 235.9L1384.3 235.7L1385.9 235.5L1387.5 235.3L1389.1 235.1L1390.7 235.0L1392.3 234.8L1393.9 234.7L1395.6 234.5L1397.2 234.4L1398.8 234.3L1400.4 234.1L1402.0 234.0L1403.6 233.9L1405.2 233.8L1406.8 233.7L1408.4 233.6L1410.0 233.5L1411.6 233.4L1413.2 233.3L1414.8 233.2L1416.5 233.1L1418.1 233.1L1419.7 233.0L1421.3 232.9L1422.9 232.9L1424.5 232.8L1426.1 232.8L1427.7 232.7L1429.4 232.7L1431.0 232.6L1432.6 232.6L1434.2 232.6L1435.8 232.5L1437.4 232.5L1439.0 232.5L1440.6 232.5L1442.2 232.4L1443.9 232.4L1445.5 232.4L1447.1 232.4L1448.7 232.4L1450.3 232.4L1451.9 232.4L1453.5 232.4L1455.1 232.4L1456.7 232.4L1458.3 232.4L1460.0 232.4L1461.6 232.4L1463.2 232.4L1464.8 232.4L1466.4 232.4L1468.0 232.4L1469.6 232.4" stroke="#ff0000" stroke-width="2.78"/>
<path d="M1128.6 267.5L1130.2 267.6L1131.8 267.6L1133.3 267.7L1134.9 267.7L1136.5 267.8L1138.1 267.9L1139.6 268.0L1141.2 268.0L1142.8 268.1L1144.4 268.2L1145.9 268.3L1147.5 268.4L1149.1 268.5L1150.7 268.6L1152.2 268.7L1153.8 268.9L1155.4 269.0L1157.0 269.1L1158.5 269.2L1160.1 269.3L1161.7 269.5L1163.3 269.6L1164.8 269.7L1166.4 269.8L1168.0 270.0L1169.6 270.1L1171.2 270.2L1172.7 270.3L1174.3 270.5L1175.9 270.6L1177.5 270.7L1179.0 270.8L1180.6 271.0L1182.2 271.1L1183.8 271.2L1185.3 271.3L1186.9 271.4L1188.5 271.5L1190.1 271.6L1191.7 271.7L1193.2 271.8L1194.8 271.9L1196.4 272.0L1198.0 272.1L1199.5 272.2L1201.1 272.3L1202.7 272.3L1204.3 272.4L1205.9 272.5L1207.4 272.5L1209.0 272.6L1210.6 272.6L1212.2 272.6L1213.7 272.7L1215.3 272.7L1216.9 272.7L1218.5 272.7L1220.1 272.7L1221.6 272.7L1223.2 272.7L1224.8 272.6L1226.4 272.6L1227.9 272.6L1229.5 272.5L1231.1 272.4L1232.7 272.4L1234.2 272.3L1235.8 272.2L1237.4 272.1L1239.0 272.0L1240.5 271.9L1242.1 271.7L1243.7 271.6L1245.3 271.5L1246.8 271.3L1248.4 271.2L1250.0 271.0L1251.6 270.8L1253.1 270.6L1254.7 270.4L1256.3 270.2L1257.8 270.0L1259.4 269.8L1261.0 269.6L1262.5 269.4L1264.1 269.1L1265.6 268.9L1267.2 268.6L1268.8 268.4L1270.3 268.1L1271.9 267.8L1273.4 267.5L1275.0 267.2L1276.5 266.9L1278.1 266.6L1279.6 266.3L1281.2 266.0L1282.7 265.7L1284.3 265.4L1285.8 265.1L1287.4 264.7L1288.9 264.4L1290.5 264.1L1292.0 263.7L1293.5 263.4L1295.1 263.0L1296.6 262.7L1298.1 262.3L1299.7 261.9L1301.2 261.6L1302.7 261.2L1304.3 260.8L1305.8 260.4L1307.3 260.0L1308.8 259.6L1310.4 259.2L1311.9 258.7L1313.4 258.3L1314.9 257.9L1316.4 257.5L1318.0 257.0L1319.5 256.6L1321.0 256.1L1322.5 255.7L1324.0 255.2L1325.5 254.8L1327.0 254.3L1328.6 253.8L1330.1 253.4L1331.6 252.9L1333.1 252.4L1334.6 252.0L1336.1 251.5L1337.6 251.0L1339.1 250.5L1340.6 250.1L1342.2 249.6L1343.7 249.1L1345.2 248.6L1346.7 248.2L1348.2 247.7L1349.7 247.2L1351.2 246.8L1352.7 246.3L1354.2 245.9L1355.8 245.4L1357.3 244.9L1358.8 244.5L1360.3 244.1L1361.8 243.6L1363.3 243.2L1364.9 242.7L1366.4 242.3L1367.9 241.9L1369.4 241.5L1370.9 241.1L1372.5 240.7L1374.0 240.3L1375.5 239.9L1377.0 239.5L1378.6 239.1L1380.1 238.8L1381.6 238.4L1383.2 238.1L1384.7 237.7L1386.3 237.4L1387.8 237.1L1389.3 236.7L1390.9 236.4L1392.4 236.1L1394.0 235.9L1395.5 235.6L1397.1 235.3L1398.7 235.1L1400.2 234.8L1401.8 234.6L1403.3 234.4L1404.9 234.2L1406.5 234.0L1408.0 233.8L1409.6 233.6L1411.2 233.4L1412.8 233.3L1414.3 233.1L1415.9 233.0L1417.5 232.8L1419.1 232.7L1420.6 232.6L1422.2 232.4L1423.8 232.3L1425.4 232.2L1427.0 232.1L1428.5 232.0L1430.1 232.0L1431.7 231.9L1433.3 231.8L1434.9 231.7L1436.5 231.7L1438.0 231.6L1439.6 231.6L1441.2 231.5L1442.8 231.5L1444.4 231.4L1446.0 231.4L1447.5 231.4L1449.1 231.3L1450.7 231.3L1452.3 231.3L1453.9 231.3L1455.4 231.2L1457.0 231.2L1458.6 231.2L1460.2 231.2L1461.7 231.2L1463.3 231.2L1464.9 231.2L1466.4 231.2L1468.0 231.2L1469.6 231.2" stroke="#0000ff" stroke-width="2.78"/>
<path d="M1128.5 233.5H1469.5" stroke="#000" stroke-width="3" stroke-dasharray="1.45 4.105"/>
</g>
<g clip-path="url(#c4)" fill="none" stroke-linejoin="round">
<path d="M1469.6 298.8L1471.2 298.8L1472.8 298.8L1474.4 298.8L1476.0 298.7L1477.6 298.7L1479.2 298.6L1480.8 298.6L1482.4 298.5L1484.0 298.4L1485.5 298.3L1487.1 298.2L1488.7 298.1L1490.3 298.0L1491.9 297.9L1493.5 297.7L1495.1 297.6L1496.7 297.4L1498.3 297.2L1499.8 297.1L1501.4 296.9L1503.0 296.7L1504.6 296.5L1506.2 296.3L1507.7 296.1L1509.3 295.8L1510.9 295.6L1512.5 295.4L1514.1 295.1L1515.6 294.9L1517.2 294.6L1518.8 294.3L1520.3 294.0L1521.9 293.8L1523.5 293.5L1525.0 293.2L1526.6 292.8L1528.2 292.5L1529.7 292.2L1531.3 291.9L1532.8 291.5L1534.4 291.2L1536.0 290.8L1537.5 290.5L1539.1 290.1L1540.6 289.7L1542.2 289.3L1543.7 289.0L1545.3 288.6L1546.8 288.2L1548.3 287.8L1549.9 287.3L1551.4 286.9L1553.0 286.5L1554.5 286.1L1556.0 285.6L1557.6 285.2L1559.1 284.7L1560.6 284.3L1562.1 283.8L1563.7 283.4L1565.2 282.9L1566.7 282.4L1568.2 281.9L1569.8 281.5L1571.3 281.0L1572.8 280.5L1574.3 280.0L1575.8 279.5L1577.3 279.0L1578.9 278.5L1580.4 278.0L1581.9 277.5L1583.4 277.0L1584.9 276.5L1586.4 276.0L1587.9 275.5L1589.5 275.0L1591.0 274.5L1592.5 274.0L1594.0 273.5L1595.5 273.0L1597.0 272.5L1598.5 272.0L1600.1 271.5L1601.6 271.0L1603.1 270.5L1604.6 270.0L1606.1 269.5L1607.6 269.0L1609.2 268.6L1610.7 268.1L1612.2 267.6L1613.7 267.1L1615.3 266.7L1616.8 266.2L1618.3 265.7L1619.8 265.3L1621.4 264.8L1622.9 264.4L1624.4 263.9L1625.9 263.4L1627.5 263.0L1629.0 262.5L1630.5 262.1L1632.1 261.6L1633.6 261.2L1635.1 260.7L1636.7 260.3L1638.2 259.8L1639.7 259.4L1641.2 259.0L1642.8 258.5L1644.3 258.1L1645.8 257.6L1647.4 257.2L1648.9 256.7L1650.4 256.3L1652.0 255.8L1653.5 255.4L1655.0 254.9L1656.5 254.5L1658.1 254.0L1659.6 253.6L1661.1 253.2L1662.7 252.7L1664.2 252.3L1665.7 251.9L1667.3 251.4L1668.8 251.0L1670.4 250.6L1671.9 250.2L1673.4 249.8L1675.0 249.4L1676.5 249.0L1678.1 248.6L1679.6 248.2L1681.1 247.8L1682.7 247.4L1684.2 247.0L1685.8 246.6L1687.3 246.2L1688.9 245.9L1690.4 245.5L1692.0 245.1L1693.5 244.8L1695.1 244.4L1696.7 244.1L1698.2 243.7L1699.8 243.4L1701.3 243.0L1702.9 242.7L1704.5 242.4L1706.0 242.1L1707.6 241.7L1709.1 241.4L1710.7 241.1L1712.3 240.8L1713.8 240.5L1715.4 240.2L1717.0 240.0L1718.6 239.7L1720.1 239.4L1721.7 239.1L1723.3 238.9L1724.8 238.6L1726.4 238.4L1728.0 238.1L1729.6 237.9L1731.1 237.7L1732.7 237.4L1734.3 237.2L1735.9 237.0L1737.5 236.8L1739.0 236.6L1740.6 236.4L1742.2 236.2L1743.8 236.0L1745.4 235.8L1747.0 235.6L1748.5 235.4L1750.1 235.3L1751.7 235.1L1753.3 234.9L1754.9 234.8L1756.5 234.6L1758.1 234.5L1759.6 234.3L1761.2 234.2L1762.8 234.0L1764.4 233.9L1766.0 233.8L1767.6 233.7L1769.2 233.5L1770.8 233.4L1772.4 233.3L1774.0 233.2L1775.5 233.1L1777.1 233.0L1778.7 232.9L1780.3 232.8L1781.9 232.7L1783.5 232.7L1785.1 232.6L1786.7 232.5L1788.3 232.4L1789.9 232.4L1791.5 232.3L1793.1 232.2L1794.7 232.2L1796.3 232.1L1797.9 232.0L1799.4 232.0L1801.0 231.9L1802.6 231.9L1804.2 231.9L1805.8 231.8L1807.4 231.8L1809.0 231.7L1810.6 231.7L1810.6 232.4L1809.0 232.5L1807.4 232.5L1805.9 232.5L1804.3 232.6L1802.7 232.6L1801.1 232.7L1799.5 232.7L1798.0 232.8L1796.4 232.8L1794.8 232.9L1793.2 233.0L1791.6 233.0L1790.0 233.1L1788.5 233.2L1786.9 233.3L1785.3 233.3L1783.7 233.4L1782.1 233.5L1780.6 233.6L1779.0 233.7L1777.4 233.8L1775.8 233.9L1774.2 234.0L1772.7 234.1L1771.1 234.2L1769.5 234.4L1767.9 234.5L1766.4 234.6L1764.8 234.7L1763.2 234.9L1761.6 235.0L1760.0 235.2L1758.5 235.3L1756.9 235.5L1755.3 235.6L1753.7 235.8L1752.2 235.9L1750.6 236.1L1749.0 236.3L1747.5 236.5L1745.9 236.6L1744.3 236.8L1742.7 237.0L1741.2 237.2L1739.6 237.4L1738.0 237.6L1736.5 237.9L1734.9 238.1L1733.3 238.3L1731.8 238.5L1730.2 238.8L1728.7 239.0L1727.1 239.3L1725.5 239.5L1724.0 239.8L1722.4 240.1L1720.9 240.3L1719.3 240.6L1717.7 240.9L1716.2 241.2L1714.6 241.5L1713.1 241.8L1711.5 242.1L1710.0 242.4L1708.4 242.7L1706.9 243.0L1705.3 243.4L1703.8 243.7L1702.2 244.0L1700.7 244.4L1699.1 244.7L1697.6 245.0L1696.0 245.4L1694.5 245.7L1692.9 246.1L1691.4 246.4L1689.9 246.8L1688.3 247.2L1686.8 247.5L1685.2 247.9L1683.7 248.2L1682.2 248.6L1680.6 249.0L1679.1 249.3L1677.5 249.7L1676.0 250.1L1674.5 250.5L1672.9 250.8L1671.4 251.2L1669.9 251.6L1668.4 252.1L1666.8 252.5L1665.3 252.9L1663.8 253.4L1662.3 253.8L1660.8 254.2L1659.2 254.7L1657.7 255.1L1656.2 255.6L1654.7 256.0L1653.2 256.4L1651.6 256.8L1650.1 257.2L1648.6 257.6L1647.0 258.0L1645.5 258.4L1644.0 258.8L1642.4 259.2L1640.9 259.6L1639.4 260.0L1637.8 260.4L1636.3 260.8L1634.8 261.2L1633.3 261.6L1631.7 262.0L1630.2 262.4L1628.7 262.8L1627.1 263.1L1625.6 263.5L1624.1 263.9L1622.5 264.3L1621.0 264.7L1619.5 265.1L1617.9 265.5L1616.4 265.9L1614.8 266.2L1613.3 266.6L1611.8 267.0L1610.2 267.4L1608.7 267.8L1607.2 268.1L1605.6 268.5L1604.1 268.9L1602.5 269.2L1601.0 269.6L1599.5 270.0L1597.9 270.3L1596.4 270.7L1594.8 271.1L1593.3 271.4L1591.8 271.8L1590.2 272.1L1588.7 272.5L1587.1 272.8L1585.6 273.2L1584.0 273.5L1582.5 273.9L1581.0 274.2L1579.4 274.5L1577.9 274.9L1576.3 275.2L1574.8 275.5L1573.2 275.8L1571.7 276.2L1570.1 276.5L1568.6 276.8L1567.0 277.1L1565.5 277.4L1563.9 277.7L1562.4 278.0L1560.8 278.3L1559.2 278.6L1557.7 278.9L1556.1 279.2L1554.6 279.4L1553.0 279.7L1551.5 280.0L1549.9 280.3L1548.3 280.5L1546.8 280.8L1545.2 281.0L1543.7 281.3L1542.1 281.5L1540.5 281.8L1539.0 282.0L1537.4 282.2L1535.8 282.5L1534.3 282.7L1532.7 282.9L1531.1 283.1L1529.6 283.3L1528.0 283.5L1526.4 283.7L1524.8 283.9L1523.3 284.1L1521.7 284.3L1520.1 284.5L1518.6 284.6L1517.0 284.8L1515.4 285.0L1513.8 285.1L1512.3 285.3L1510.7 285.4L1509.1 285.6L1507.5 285.7L1506.0 285.8L1504.4 286.0L1502.8 286.1L1501.2 286.2L1499.7 286.3L1498.1 286.4L1496.5 286.5L1494.9 286.6L1493.3 286.6L1491.8 286.7L1490.2 286.8L1488.6 286.9L1487.0 286.9L1485.4 287.0L1483.8 287.0L1482.3 287.0L1480.7 287.1L1479.1 287.1L1477.5 287.1L1475.9 287.1L1474.3 287.1L1472.8 287.1L1471.2 287.1L1469.6 287.1Z" fill="#ffff99" stroke="none"/>
<path d="M1521.9 -10.0L1522.0 -7.0L1522.1 -4.0L1522.2 -1.0L1522.2 2.0L1522.3 5.0L1522.4 8.1L1522.5 11.1L1522.6 14.1L1522.7 17.1L1522.7 20.1L1522.8 23.1L1522.9 26.1L1523.0 29.1L1523.1 32.1L1523.2 35.1L1523.3 38.1L1523.4 41.1L1523.5 44.2L1523.6 47.2L1523.7 50.2L1523.8 53.2L1523.9 56.2L1524.0 59.2L1524.1 62.2L1524.2 65.2L1524.3 68.2L1524.4 71.2L1524.5 74.2L1524.6 77.2L1524.7 80.2L1524.8 83.3L1524.9 86.3L1525.0 89.3L1525.1 92.3L1525.2 95.3L1525.3 98.3L1525.4 101.3L1525.5 104.3L1525.6 107.3L1525.7 110.3L1525.8 113.3L1526.0 116.3L1526.1 119.3L1526.2 122.3L1526.3 125.4L1526.4 128.4L1526.5 131.4L1526.6 134.4L1526.7 137.4L1526.9 140.4L1527.0 143.4L1527.1 146.4L1527.2 149.4L1527.3 152.4L1527.4 155.4L1527.5 158.4L1527.7 161.5L1527.8 164.5L1527.9 167.5L1528.0 170.5L1528.1 173.5L1528.2 176.5L1528.4 179.5L1528.5 182.5L1528.6 185.5L1528.7 188.5L1528.9 191.5L1529.0 194.5L1529.1 197.5L1529.3 200.6L1529.4 203.6L1529.6 206.6L1529.8 209.6L1529.9 212.6L1530.1 215.6L1530.3 218.6L1530.5 221.6L1530.8 224.6L1531.0 227.6L1531.3 230.6L1531.5 233.6L1531.7 236.6L1532.0 239.6L1532.2 242.6L1532.4 245.6L1532.6 248.6L1532.8 251.6L1533.0 254.6L1533.2 257.6L1533.4 260.6L1533.6 263.6L1533.8 266.6L1534.0 269.6L1534.2 272.6L1534.4 275.6L1534.7 278.6L1534.9 281.6L1535.2 284.6L1535.4 287.6L1535.7 290.6L1536.0 293.6L1536.3 296.6L1536.7 299.6L1537.1 302.6L1537.5 305.5L1537.9 308.5L1538.4 311.5L1538.9 314.4L1539.5 317.4L1540.1 320.4L1540.7 323.3L1541.4 326.2L1542.4 329.1L1543.9 331.9L1546.0 334.2L1548.3 333.9L1550.4 331.7L1552.1 329.0L1553.5 326.3L1554.7 323.5L1555.9 320.8L1557.1 318.0L1558.3 315.2L1559.5 312.5L1560.7 309.7L1561.9 307.0L1563.1 304.3L1564.3 301.5L1565.5 298.8L1566.7 296.0L1567.9 293.2L1569.2 290.5L1570.5 287.7L1571.8 285.0L1573.2 282.3L1574.6 279.7L1576.1 277.0L1577.7 274.5L1579.4 272.0L1581.2 269.6L1583.1 267.3L1585.1 265.1L1587.2 263.0L1589.5 261.0L1591.8 259.1L1594.3 257.3L1596.8 255.7L1599.4 254.1L1602.1 252.6L1604.8 251.3L1607.5 250.0L1610.3 248.9L1613.2 247.8L1616.0 246.8L1618.9 246.0L1621.8 245.2L1624.7 244.5L1627.6 243.8L1630.6 243.2L1633.5 242.6L1636.5 242.1L1639.4 241.6L1642.4 241.1L1645.4 240.6L1648.4 240.2L1651.3 239.8L1654.3 239.4L1657.3 239.0L1660.3 238.6L1663.3 238.2L1666.3 237.9L1669.3 237.6L1672.3 237.3L1675.3 237.0L1678.3 236.7L1681.3 236.5L1684.3 236.2L1687.3 236.0L1690.3 235.8L1693.3 235.6L1696.3 235.4L1699.3 235.2L1702.3 235.0L1705.3 234.9L1708.3 234.8L1711.3 234.6L1714.3 234.5L1717.3 234.4L1720.3 234.3L1723.3 234.2L1726.3 234.1L1729.3 234.1L1732.3 234.0L1735.4 234.0L1738.4 233.9L1741.4 233.9L1744.4 233.8L1747.4 233.8L1750.4 233.8L1753.4 233.7L1756.4 233.7L1759.4 233.7L1762.5 233.7L1765.5 233.7L1768.5 233.6L1771.5 233.6L1774.5 233.6L1777.5 233.6L1780.5 233.6L1783.5 233.6L1786.5 233.6L1789.5 233.6L1792.6 233.6L1795.6 233.5L1798.6 233.5L1801.6 233.5L1804.6 233.5L1807.6 233.4L1810.6 233.4" stroke="#ff0000" stroke-width="2.78" stroke-dasharray="8.7 8.0" stroke-dashoffset="-8.38"/>
<path d="M1511.4 -10.0L1511.9 -7.4L1512.4 -4.8L1512.9 -2.1L1513.4 0.5L1513.9 3.1L1514.4 5.7L1514.9 8.4L1515.4 11.0L1515.9 13.6L1516.4 16.2L1516.9 18.8L1517.4 21.5L1517.9 24.1L1518.4 26.7L1518.9 29.3L1519.4 31.9L1519.9 34.6L1520.5 37.2L1521.0 39.8L1521.5 42.4L1522.0 45.0L1522.5 47.7L1523.0 50.3L1523.5 52.9L1524.0 55.5L1524.5 58.1L1525.1 60.8L1525.6 63.4L1526.1 66.0L1526.6 68.6L1527.1 71.2L1527.6 73.8L1528.2 76.5L1528.7 79.1L1529.2 81.7L1529.7 84.3L1530.3 86.9L1530.8 89.5L1531.3 92.1L1531.8 94.8L1532.4 97.4L1532.9 100.0L1533.4 102.6L1533.9 105.2L1534.5 107.8L1535.0 110.4L1535.5 113.1L1536.1 115.7L1536.6 118.3L1537.1 120.9L1537.7 123.5L1538.2 126.1L1538.8 128.7L1539.3 131.4L1539.8 134.0L1540.4 136.6L1540.9 139.2L1541.5 141.8L1542.0 144.4L1542.5 147.0L1543.1 149.6L1543.6 152.3L1544.2 154.9L1544.7 157.5L1545.3 160.1L1545.8 162.7L1546.4 165.3L1546.9 167.9L1547.5 170.5L1548.0 173.1L1548.6 175.8L1549.1 178.4L1549.7 181.0L1550.2 183.6L1550.8 186.2L1551.4 188.8L1551.9 191.4L1552.5 194.0L1553.0 196.6L1553.6 199.3L1554.2 201.9L1554.7 204.5L1555.3 207.1L1555.9 209.7L1556.4 212.3L1557.0 214.9L1557.6 217.5L1558.1 220.1L1558.7 222.8L1559.3 225.4L1559.8 228.0L1560.4 230.6L1561.0 233.2L1561.6 235.8L1562.2 238.4L1562.9 241.0L1563.5 243.6L1564.2 246.1L1565.0 248.7L1565.7 251.2L1566.5 253.8L1567.4 256.3L1568.3 258.8L1569.2 261.2L1570.2 263.7L1571.2 266.2L1572.3 268.6L1573.3 271.1L1574.4 273.5L1575.5 276.0L1576.7 278.4L1577.8 280.8L1578.9 283.3L1580.1 285.7L1581.4 288.1L1582.6 290.5L1584.0 292.8L1585.4 295.0L1587.0 297.2L1588.6 299.3L1590.4 301.3L1592.3 303.2L1594.3 305.0L1596.5 306.6L1598.8 307.9L1601.3 308.9L1603.8 309.3L1606.4 309.2L1609.0 308.5L1611.5 307.6L1613.8 306.3L1616.0 304.8L1618.1 303.2L1620.1 301.4L1622.0 299.4L1623.8 297.4L1625.6 295.3L1627.4 293.2L1629.1 291.2L1630.8 289.1L1632.5 287.0L1634.2 285.0L1635.9 282.9L1637.6 280.8L1639.2 278.8L1640.8 276.7L1642.5 274.6L1644.1 272.5L1645.7 270.4L1647.3 268.3L1648.8 266.2L1650.4 264.1L1652.0 261.9L1653.5 259.7L1655.1 257.5L1656.7 255.3L1658.3 253.1L1659.9 251.0L1661.5 248.9L1663.3 246.9L1665.1 244.9L1666.9 243.0L1668.7 241.1L1670.6 239.2L1672.5 237.3L1674.5 235.5L1676.5 233.7L1678.5 232.0L1680.6 230.3L1682.8 228.7L1685.0 227.3L1687.4 226.1L1689.8 225.0L1692.3 224.0L1694.8 223.2L1697.4 222.5L1700.0 222.0L1702.7 221.6L1705.4 221.4L1708.0 221.2L1710.7 221.2L1713.4 221.3L1716.0 221.4L1718.7 221.7L1721.3 222.1L1723.9 222.6L1726.6 223.1L1729.2 223.7L1731.7 224.3L1734.3 225.0L1736.9 225.7L1739.5 226.3L1742.1 227.0L1744.7 227.7L1747.3 228.4L1749.8 229.0L1752.4 229.7L1755.0 230.3L1757.6 230.9L1760.2 231.5L1762.8 232.1L1765.4 232.6L1768.1 233.1L1770.7 233.6L1773.3 234.0L1775.9 234.4L1778.6 234.7L1781.3 235.0L1783.9 235.2L1786.6 235.3L1789.3 235.5L1791.9 235.5L1794.6 235.6L1797.3 235.6L1799.9 235.6L1802.6 235.6L1805.3 235.5L1807.9 235.4L1810.6 235.3" stroke="#0000ff" stroke-width="2.78" stroke-dasharray="8.7 8.0" stroke-dashoffset="-8.71"/>
<path d="M1469.6 298.8L1471.2 298.8L1472.8 298.8L1474.4 298.8L1476.0 298.7L1477.6 298.7L1479.2 298.6L1480.8 298.6L1482.4 298.5L1484.0 298.4L1485.5 298.3L1487.1 298.2L1488.7 298.1L1490.3 298.0L1491.9 297.9L1493.5 297.7L1495.1 297.6L1496.7 297.4L1498.3 297.2L1499.8 297.1L1501.4 296.9L1503.0 296.7L1504.6 296.5L1506.2 296.3L1507.7 296.1L1509.3 295.8L1510.9 295.6L1512.5 295.4L1514.1 295.1L1515.6 294.9L1517.2 294.6L1518.8 294.3L1520.3 294.0L1521.9 293.8L1523.5 293.5L1525.0 293.2L1526.6 292.8L1528.2 292.5L1529.7 292.2L1531.3 291.9L1532.8 291.5L1534.4 291.2L1536.0 290.8L1537.5 290.5L1539.1 290.1L1540.6 289.7L1542.2 289.3L1543.7 289.0L1545.3 288.6L1546.8 288.2L1548.3 287.8L1549.9 287.3L1551.4 286.9L1553.0 286.5L1554.5 286.1L1556.0 285.6L1557.6 285.2L1559.1 284.7L1560.6 284.3L1562.1 283.8L1563.7 283.4L1565.2 282.9L1566.7 282.4L1568.2 281.9L1569.8 281.5L1571.3 281.0L1572.8 280.5L1574.3 280.0L1575.8 279.5L1577.3 279.0L1578.9 278.5L1580.4 278.0L1581.9 277.5L1583.4 277.0L1584.9 276.5L1586.4 276.0L1587.9 275.5L1589.5 275.0L1591.0 274.5L1592.5 274.0L1594.0 273.5L1595.5 273.0L1597.0 272.5L1598.5 272.0L1600.1 271.5L1601.6 271.0L1603.1 270.5L1604.6 270.0L1606.1 269.5L1607.6 269.0L1609.2 268.6L1610.7 268.1L1612.2 267.6L1613.7 267.1L1615.3 266.7L1616.8 266.2L1618.3 265.7L1619.8 265.3L1621.4 264.8L1622.9 264.4L1624.4 263.9L1625.9 263.4L1627.5 263.0L1629.0 262.5L1630.5 262.1L1632.1 261.6L1633.6 261.2L1635.1 260.7L1636.7 260.3L1638.2 259.8L1639.7 259.4L1641.2 259.0L1642.8 258.5L1644.3 258.1L1645.8 257.6L1647.4 257.2L1648.9 256.7L1650.4 256.3L1652.0 255.8L1653.5 255.4L1655.0 254.9L1656.5 254.5L1658.1 254.0L1659.6 253.6L1661.1 253.2L1662.7 252.7L1664.2 252.3L1665.7 251.9L1667.3 251.4L1668.8 251.0L1670.4 250.6L1671.9 250.2L1673.4 249.8L1675.0 249.4L1676.5 249.0L1678.1 248.6L1679.6 248.2L1681.1 247.8L1682.7 247.4L1684.2 247.0L1685.8 246.6L1687.3 246.2L1688.9 245.9L1690.4 245.5L1692.0 245.1L1693.5 244.8L1695.1 244.4L1696.7 244.1L1698.2 243.7L1699.8 243.4L1701.3 243.0L1702.9 242.7L1704.5 242.4L1706.0 242.1L1707.6 241.7L1709.1 241.4L1710.7 241.1L1712.3 240.8L1713.8 240.5L1715.4 240.2L1717.0 240.0L1718.6 239.7L1720.1 239.4L1721.7 239.1L1723.3 238.9L1724.8 238.6L1726.4 238.4L1728.0 238.1L1729.6 237.9L1731.1 237.7L1732.7 237.4L1734.3 237.2L1735.9 237.0L1737.5 236.8L1739.0 236.6L1740.6 236.4L1742.2 236.2L1743.8 236.0L1745.4 235.8L1747.0 235.6L1748.5 235.4L1750.1 235.3L1751.7 235.1L1753.3 234.9L1754.9 234.8L1756.5 234.6L1758.1 234.5L1759.6 234.3L1761.2 234.2L1762.8 234.0L1764.4 233.9L1766.0 233.8L1767.6 233.7L1769.2 233.5L1770.8 233.4L1772.4 233.3L1774.0 233.2L1775.5 233.1L1777.1 233.0L1778.7 232.9L1780.3 232.8L1781.9 232.7L1783.5 232.7L1785.1 232.6L1786.7 232.5L1788.3 232.4L1789.9 232.4L1791.5 232.3L1793.1 232.2L1794.7 232.2L1796.3 232.1L1797.9 232.0L1799.4 232.0L1801.0 231.9L1802.6 231.9L1804.2 231.9L1805.8 231.8L1807.4 231.8L1809.0 231.7L1810.6 231.7" stroke="#ff0000" stroke-width="2.78"/>
<path d="M1469.6 287.1L1471.2 287.1L1472.8 287.1L1474.3 287.1L1475.9 287.1L1477.5 287.1L1479.1 287.1L1480.7 287.1L1482.3 287.0L1483.8 287.0L1485.4 287.0L1487.0 286.9L1488.6 286.9L1490.2 286.8L1491.8 286.7L1493.3 286.6L1494.9 286.6L1496.5 286.5L1498.1 286.4L1499.7 286.3L1501.2 286.2L1502.8 286.1L1504.4 286.0L1506.0 285.8L1507.5 285.7L1509.1 285.6L1510.7 285.4L1512.3 285.3L1513.8 285.1L1515.4 285.0L1517.0 284.8L1518.6 284.6L1520.1 284.5L1521.7 284.3L1523.3 284.1L1524.8 283.9L1526.4 283.7L1528.0 283.5L1529.6 283.3L1531.1 283.1L1532.7 282.9L1534.3 282.7L1535.8 282.5L1537.4 282.2L1539.0 282.0L1540.5 281.8L1542.1 281.5L1543.7 281.3L1545.2 281.0L1546.8 280.8L1548.3 280.5L1549.9 280.3L1551.5 280.0L1553.0 279.7L1554.6 279.4L1556.1 279.2L1557.7 278.9L1559.2 278.6L1560.8 278.3L1562.4 278.0L1563.9 277.7L1565.5 277.4L1567.0 277.1L1568.6 276.8L1570.1 276.5L1571.7 276.2L1573.2 275.8L1574.8 275.5L1576.3 275.2L1577.9 274.9L1579.4 274.5L1581.0 274.2L1582.5 273.9L1584.0 273.5L1585.6 273.2L1587.1 272.8L1588.7 272.5L1590.2 272.1L1591.8 271.8L1593.3 271.4L1594.8 271.1L1596.4 270.7L1597.9 270.3L1599.5 270.0L1601.0 269.6L1602.5 269.2L1604.1 268.9L1605.6 268.5L1607.2 268.1L1608.7 267.8L1610.2 267.4L1611.8 267.0L1613.3 266.6L1614.8 266.2L1616.4 265.9L1617.9 265.5L1619.5 265.1L1621.0 264.7L1622.5 264.3L1624.1 263.9L1625.6 263.5L1627.1 263.1L1628.7 262.8L1630.2 262.4L1631.7 262.0L1633.3 261.6L1634.8 261.2L1636.3 260.8L1637.8 260.4L1639.4 260.0L1640.9 259.6L1642.4 259.2L1644.0 258.8L1645.5 258.4L1647.0 258.0L1648.6 257.6L1650.1 257.2L1651.6 256.8L1653.2 256.4L1654.7 256.0L1656.2 255.6L1657.7 255.1L1659.2 254.7L1660.8 254.2L1662.3 253.8L1663.8 253.4L1665.3 252.9L1666.8 252.5L1668.4 252.1L1669.9 251.6L1671.4 251.2L1672.9 250.8L1674.5 250.5L1676.0 250.1L1677.5 249.7L1679.1 249.3L1680.6 249.0L1682.2 248.6L1683.7 248.2L1685.2 247.9L1686.8 247.5L1688.3 247.2L1689.9 246.8L1691.4 246.4L1692.9 246.1L1694.5 245.7L1696.0 245.4L1697.6 245.0L1699.1 244.7L1700.7 244.4L1702.2 244.0L1703.8 243.7L1705.3 243.4L1706.9 243.0L1708.4 242.7L1710.0 242.4L1711.5 242.1L1713.1 241.8L1714.6 241.5L1716.2 241.2L1717.7 240.9L1719.3 240.6L1720.9 240.3L1722.4 240.1L1724.0 239.8L1725.5 239.5L1727.1 239.3L1728.7 239.0L1730.2 238.8L1731.8 238.5L1733.3 238.3L1734.9 238.1L1736.5 237.9L1738.0 237.6L1739.6 237.4L1741.2 237.2L1742.7 237.0L1744.3 236.8L1745.9 236.6L1747.5 236.5L1749.0 236.3L1750.6 236.1L1752.2 235.9L1753.7 235.8L1755.3 235.6L1756.9 235.5L1758.5 235.3L1760.0 235.2L1761.6 235.0L1763.2 234.9L1764.8 234.7L1766.4 234.6L1767.9 234.5L1769.5 234.4L1771.1 234.2L1772.7 234.1L1774.2 234.0L1775.8 233.9L1777.4 233.8L1779.0 233.7L1780.6 233.6L1782.1 233.5L1783.7 233.4L1785.3 233.3L1786.9 233.3L1788.5 233.2L1790.0 233.1L1791.6 233.0L1793.2 233.0L1794.8 232.9L1796.4 232.8L1798.0 232.8L1799.5 232.7L1801.1 232.7L1802.7 232.6L1804.3 232.6L1805.9 232.5L1807.4 232.5L1809.0 232.5L1810.6 232.4" stroke="#0000ff" stroke-width="2.78"/>
<path d="M1469.5 233.5H1810.5" stroke="#000" stroke-width="3" stroke-dasharray="1.45 4.105"/>
</g>
<path d="M148.5 340.5v-3.4M148.5 20.5v3.4M191.5 340.5v-6.2M191.5 20.5v6.2M233.5 340.5v-3.4M233.5 20.5v3.4M276.5 340.5v-6.2M276.5 20.5v6.2M319.5 340.5v-3.4M319.5 20.5v3.4M361.5 340.5v-6.2M361.5 20.5v6.2M404.5 340.5v-3.4M404.5 20.5v3.4M105.5 46.5h3.4M446.5 46.5h-3.4M105.5 73.5h6.2M446.5 73.5h-6.2M105.5 100.5h3.4M446.5 100.5h-3.4M105.5 126.5h6.2M446.5 126.5h-6.2M105.5 153.5h3.4M446.5 153.5h-3.4M105.5 180.5h6.2M446.5 180.5h-6.2M105.5 206.5h3.4M446.5 206.5h-3.4M105.5 233.5h6.2M446.5 233.5h-6.2M105.5 260.5h3.4M446.5 260.5h-3.4M105.5 286.5h6.2M446.5 286.5h-6.2M105.5 313.5h3.4M446.5 313.5h-3.4M489.5 340.5v-3.4M489.5 20.5v3.4M532.5 340.5v-6.2M532.5 20.5v6.2M574.5 340.5v-3.4M574.5 20.5v3.4M617.5 340.5v-6.2M617.5 20.5v6.2M660.5 340.5v-3.4M660.5 20.5v3.4M702.5 340.5v-6.2M702.5 20.5v6.2M745.5 340.5v-3.4M745.5 20.5v3.4M446.5 46.5h3.4M787.5 46.5h-3.4M446.5 73.5h6.2M787.5 73.5h-6.2M446.5 100.5h3.4M787.5 100.5h-3.4M446.5 126.5h6.2M787.5 126.5h-6.2M446.5 153.5h3.4M787.5 153.5h-3.4M446.5 180.5h6.2M787.5 180.5h-6.2M446.5 206.5h3.4M787.5 206.5h-3.4M446.5 233.5h6.2M787.5 233.5h-6.2M446.5 260.5h3.4M787.5 260.5h-3.4M446.5 286.5h6.2M787.5 286.5h-6.2M446.5 313.5h3.4M787.5 313.5h-3.4M830.5 340.5v-3.4M830.5 20.5v3.4M873.5 340.5v-6.2M873.5 20.5v6.2M915.5 340.5v-3.4M915.5 20.5v3.4M958.5 340.5v-6.2M958.5 20.5v6.2M1001.5 340.5v-3.4M1001.5 20.5v3.4M1043.5 340.5v-6.2M1043.5 20.5v6.2M1086.5 340.5v-3.4M1086.5 20.5v3.4M787.5 46.5h3.4M1128.5 46.5h-3.4M787.5 73.5h6.2M1128.5 73.5h-6.2M787.5 100.5h3.4M1128.5 100.5h-3.4M787.5 126.5h6.2M1128.5 126.5h-6.2M787.5 153.5h3.4M1128.5 153.5h-3.4M787.5 180.5h6.2M1128.5 180.5h-6.2M787.5 206.5h3.4M1128.5 206.5h-3.4M787.5 233.5h6.2M1128.5 233.5h-6.2M787.5 260.5h3.4M1128.5 260.5h-3.4M787.5 286.5h6.2M1128.5 286.5h-6.2M787.5 313.5h3.4M1128.5 313.5h-3.4M1171.5 340.5v-3.4M1171.5 20.5v3.4M1214.5 340.5v-6.2M1214.5 20.5v6.2M1256.5 340.5v-3.4M1256.5 20.5v3.4M1299.5 340.5v-6.2M1299.5 20.5v6.2M1342.5 340.5v-3.4M1342.5 20.5v3.4M1384.5 340.5v-6.2M1384.5 20.5v6.2M1427.5 340.5v-3.4M1427.5 20.5v3.4M1128.5 46.5h3.4M1469.5 46.5h-3.4M1128.5 73.5h6.2M1469.5 73.5h-6.2M1128.5 100.5h3.4M1469.5 100.5h-3.4M1128.5 126.5h6.2M1469.5 126.5h-6.2M1128.5 153.5h3.4M1469.5 153.5h-3.4M1128.5 180.5h6.2M1469.5 180.5h-6.2M1128.5 206.5h3.4M1469.5 206.5h-3.4M1128.5 233.5h6.2M1469.5 233.5h-6.2M1128.5 260.5h3.4M1469.5 260.5h-3.4M1128.5 286.5h6.2M1469.5 286.5h-6.2M1128.5 313.5h3.4M1469.5 313.5h-3.4M1512.5 340.5v-3.4M1512.5 20.5v3.4M1555.5 340.5v-6.2M1555.5 20.5v6.2M1597.5 340.5v-3.4M1597.5 20.5v3.4M1640.5 340.5v-6.2M1640.5 20.5v6.2M1683.5 340.5v-3.4M1683.5 20.5v3.4M1725.5 340.5v-6.2M1725.5 20.5v6.2M1768.5 340.5v-3.4M1768.5 20.5v3.4M1469.5 46.5h3.4M1810.5 46.5h-3.4M1469.5 73.5h6.2M1810.5 73.5h-6.2M1469.5 100.5h3.4M1810.5 100.5h-3.4M1469.5 126.5h6.2M1810.5 126.5h-6.2M1469.5 153.5h3.4M1810.5 153.5h-3.4M1469.5 180.5h6.2M1810.5 180.5h-6.2M1469.5 206.5h3.4M1810.5 206.5h-3.4M1469.5 233.5h6.2M1810.5 233.5h-6.2M1469.5 260.5h3.4M1810.5 260.5h-3.4M1469.5 286.5h6.2M1810.5 286.5h-6.2M1469.5 313.5h3.4M1810.5 313.5h-3.4" stroke="#000" stroke-width="0.95" fill="none"/>
<rect x="105.5" y="20.5" width="341.0" height="320.0" fill="none" stroke="#000" stroke-width="1.3"/>
<rect x="446.5" y="20.5" width="341.0" height="320.0" fill="none" stroke="#000" stroke-width="1.3"/>
<rect x="787.5" y="20.5" width="341.0" height="320.0" fill="none" stroke="#000" stroke-width="1.3"/>
<rect x="1128.5" y="20.5" width="341.0" height="320.0" fill="none" stroke="#000" stroke-width="1.3"/>
<rect x="1469.5" y="20.5" width="341.0" height="320.0" fill="none" stroke="#000" stroke-width="1.3"/>
<g text-anchor="end">
<text x="92.6" y="29.0">120</text>
<text x="92.6" y="82.3">90</text>
<text x="92.6" y="135.7">60</text>
<text x="92.6" y="189.0">30</text>
<text x="92.6" y="242.3">0</text>
<text x="92.6" y="295.7">-30</text>
<text x="92.6" y="349.0">-60</text>
</g>
<g text-anchor="middle">
<text x="104.0" y="371.4">0</text>
<text x="189.4" y="371.4">1</text>
<text x="274.7" y="371.4">2</text>
<text x="359.9" y="371.4">3</text>
<text x="445.2" y="371.4">4</text>
<text x="275.0" y="398.3">r [fm]</text>
<text x="530.5" y="371.4">1</text>
<text x="615.7" y="371.4">2</text>
<text x="701.0" y="371.4">3</text>
<text x="786.2" y="371.4">4</text>
<text x="616.0" y="398.3">r [fm]</text>
<text x="871.5" y="371.4">1</text>
<text x="956.7" y="371.4">2</text>
<text x="1042.0" y="371.4">3</text>
<text x="1127.2" y="371.4">4</text>
<text x="957.0" y="398.3">r [fm]</text>
<text x="1212.5" y="371.4">1</text>
<text x="1297.7" y="371.4">2</text>
<text x="1383.0" y="371.4">3</text>
<text x="1468.2" y="371.4">4</text>
<text x="1298.0" y="398.3">r [fm]</text>
<text x="1553.5" y="371.4">1</text>
<text x="1638.7" y="371.4">2</text>
<text x="1724.0" y="371.4">3</text>
<text x="1809.2" y="371.4">4</text>
<text x="1639.0" y="398.3">r [fm]</text>
</g>
<g transform="translate(32.5 233.6) rotate(-90)"><text x="0.6" y="0.4" class="m" font-family="'Liberation Serif', 'DejaVu Serif', serif" font-style="italic" font-size="30.8">V</text><text x="30.8" y="0"> [MeV]</text><path d="M0.9 -23.5H23.5" stroke="#000" stroke-width="1.5" fill="none"/></g>
<rect x="179.5" y="34.5" width="253" height="92" fill="#fff" stroke="#000" stroke-width="1.3"/>
<path d="M198 60.5H241" stroke="#ff0000" stroke-width="3"/>
<path d="M198 104.5H241" stroke="#0000ff" stroke-width="3"/>
<text x="269.6" y="66.2">Argonne <tspan class="m" font-family="'Liberation Serif', 'DejaVu Serif', serif" font-style="italic" font-size="29">v</tspan><tspan class="m" font-family="'Liberation Serif', 'DejaVu Serif', serif" font-size="20" dy="4.5">18</tspan></text>
<text x="267.6" y="113.9">N<tspan class="m" font-family="'Liberation Serif', 'DejaVu Serif', serif" font-size="20" dy="-10">3</tspan><tspan dy="10">LO-500</tspan></text>
<rect x="1592.5" y="34.5" width="204" height="85" fill="#fff" stroke="#000" stroke-width="1.3"/>
<path d="M1612.2 56.5H1652.8" stroke="#000" stroke-width="3" stroke-dasharray="8.8 7.87"/>
<path d="M1611 97.5H1654" stroke="#000" stroke-width="3"/>
<text x="1681.0" y="65.7">Initial</text>
<text x="1681.0" y="106.0" letter-spacing="-0.45">Evolved</text>
<text x="272.6" y="159.8"><tspan class="m" font-family="'Liberation Serif', 'DejaVu Serif', serif" font-style="italic" font-size="28.5">λ</tspan></text><text x="0" y="0" font-weight="bold" font-size="19" transform="translate(293.8 156.9) scale(1.5 1)">=</text><text x="0" y="0" class="m" font-family="'Liberation Serif', 'DejaVu Serif', serif" font-size="41" transform="translate(318.4 163.4) scale(1 0.86)">∞</text>
<text x="600.8" y="159.8"><tspan class="m" font-family="'Liberation Serif', 'DejaVu Serif', serif" font-style="italic" font-size="28.5">λ</tspan></text><text x="0" y="0" font-weight="bold" font-size="19" transform="translate(622.7 156.9) scale(1.5 1)">=</text><text x="646.6" y="159.8">4.00 fm<tspan class="m" font-family="'Liberation Serif', 'DejaVu Serif', serif" font-size="26" dx="0.6" dy="-7.9">−</tspan><tspan class="m" font-family="'Liberation Serif', 'DejaVu Serif', serif" font-size="20" dx="1.2" dy="-1.4">1</tspan></text>
<text x="941.8" y="159.8"><tspan class="m" font-family="'Liberation Serif', 'DejaVu Serif', serif" font-style="italic" font-size="28.5">λ</tspan></text><text x="0" y="0" font-weight="bold" font-size="19" transform="translate(963.7 156.9) scale(1.5 1)">=</text><text x="987.6" y="159.8">3.00 fm<tspan class="m" font-family="'Liberation Serif', 'DejaVu Serif', serif" font-size="26" dx="0.6" dy="-7.9">−</tspan><tspan class="m" font-family="'Liberation Serif', 'DejaVu Serif', serif" font-size="20" dx="1.2" dy="-1.4">1</tspan></text>
<text x="1282.8" y="159.8"><tspan class="m" font-family="'Liberation Serif', 'DejaVu Serif', serif" font-style="italic" font-size="28.5">λ</tspan></text><text x="0" y="0" font-weight="bold" font-size="19" transform="translate(1304.7 156.9) scale(1.5 1)">=</text><text x="1328.6" y="159.8">2.00 fm<tspan class="m" font-family="'Liberation Serif', 'DejaVu Serif', serif" font-size="26" dx="0.6" dy="-7.9">−</tspan><tspan class="m" font-family="'Liberation Serif', 'DejaVu Serif', serif" font-size="20" dx="1.2" dy="-1.4">1</tspan></text>
<text x="1623.8" y="159.8"><tspan class="m" font-family="'Liberation Serif', 'DejaVu Serif', serif" font-style="italic" font-size="28.5">λ</tspan></text><text x="0" y="0" font-weight="bold" font-size="19" transform="translate(1645.7 156.9) scale(1.5 1)">=</text><text x="1669.6" y="159.8">1.60 fm<tspan class="m" font-family="'Liberation Serif', 'DejaVu Serif', serif" font-size="26" dx="0.6" dy="-7.9">−</tspan><tspan class="m" font-family="'Liberation Serif', 'DejaVu Serif', serif" font-size="20" dx="1.2" dy="-1.4">1</tspan></text>
<text x="938.5" y="78.4"><tspan class="m" font-family="'Liberation Serif', 'DejaVu Serif', serif" font-size="20" dy="-10.8">3</tspan><tspan dy="10.8">S</tspan><tspan class="m" font-family="'Liberation Serif', 'DejaVu Serif', serif" font-size="20" dy="4.5">1</tspan></text>
</svg>
</body></html>
